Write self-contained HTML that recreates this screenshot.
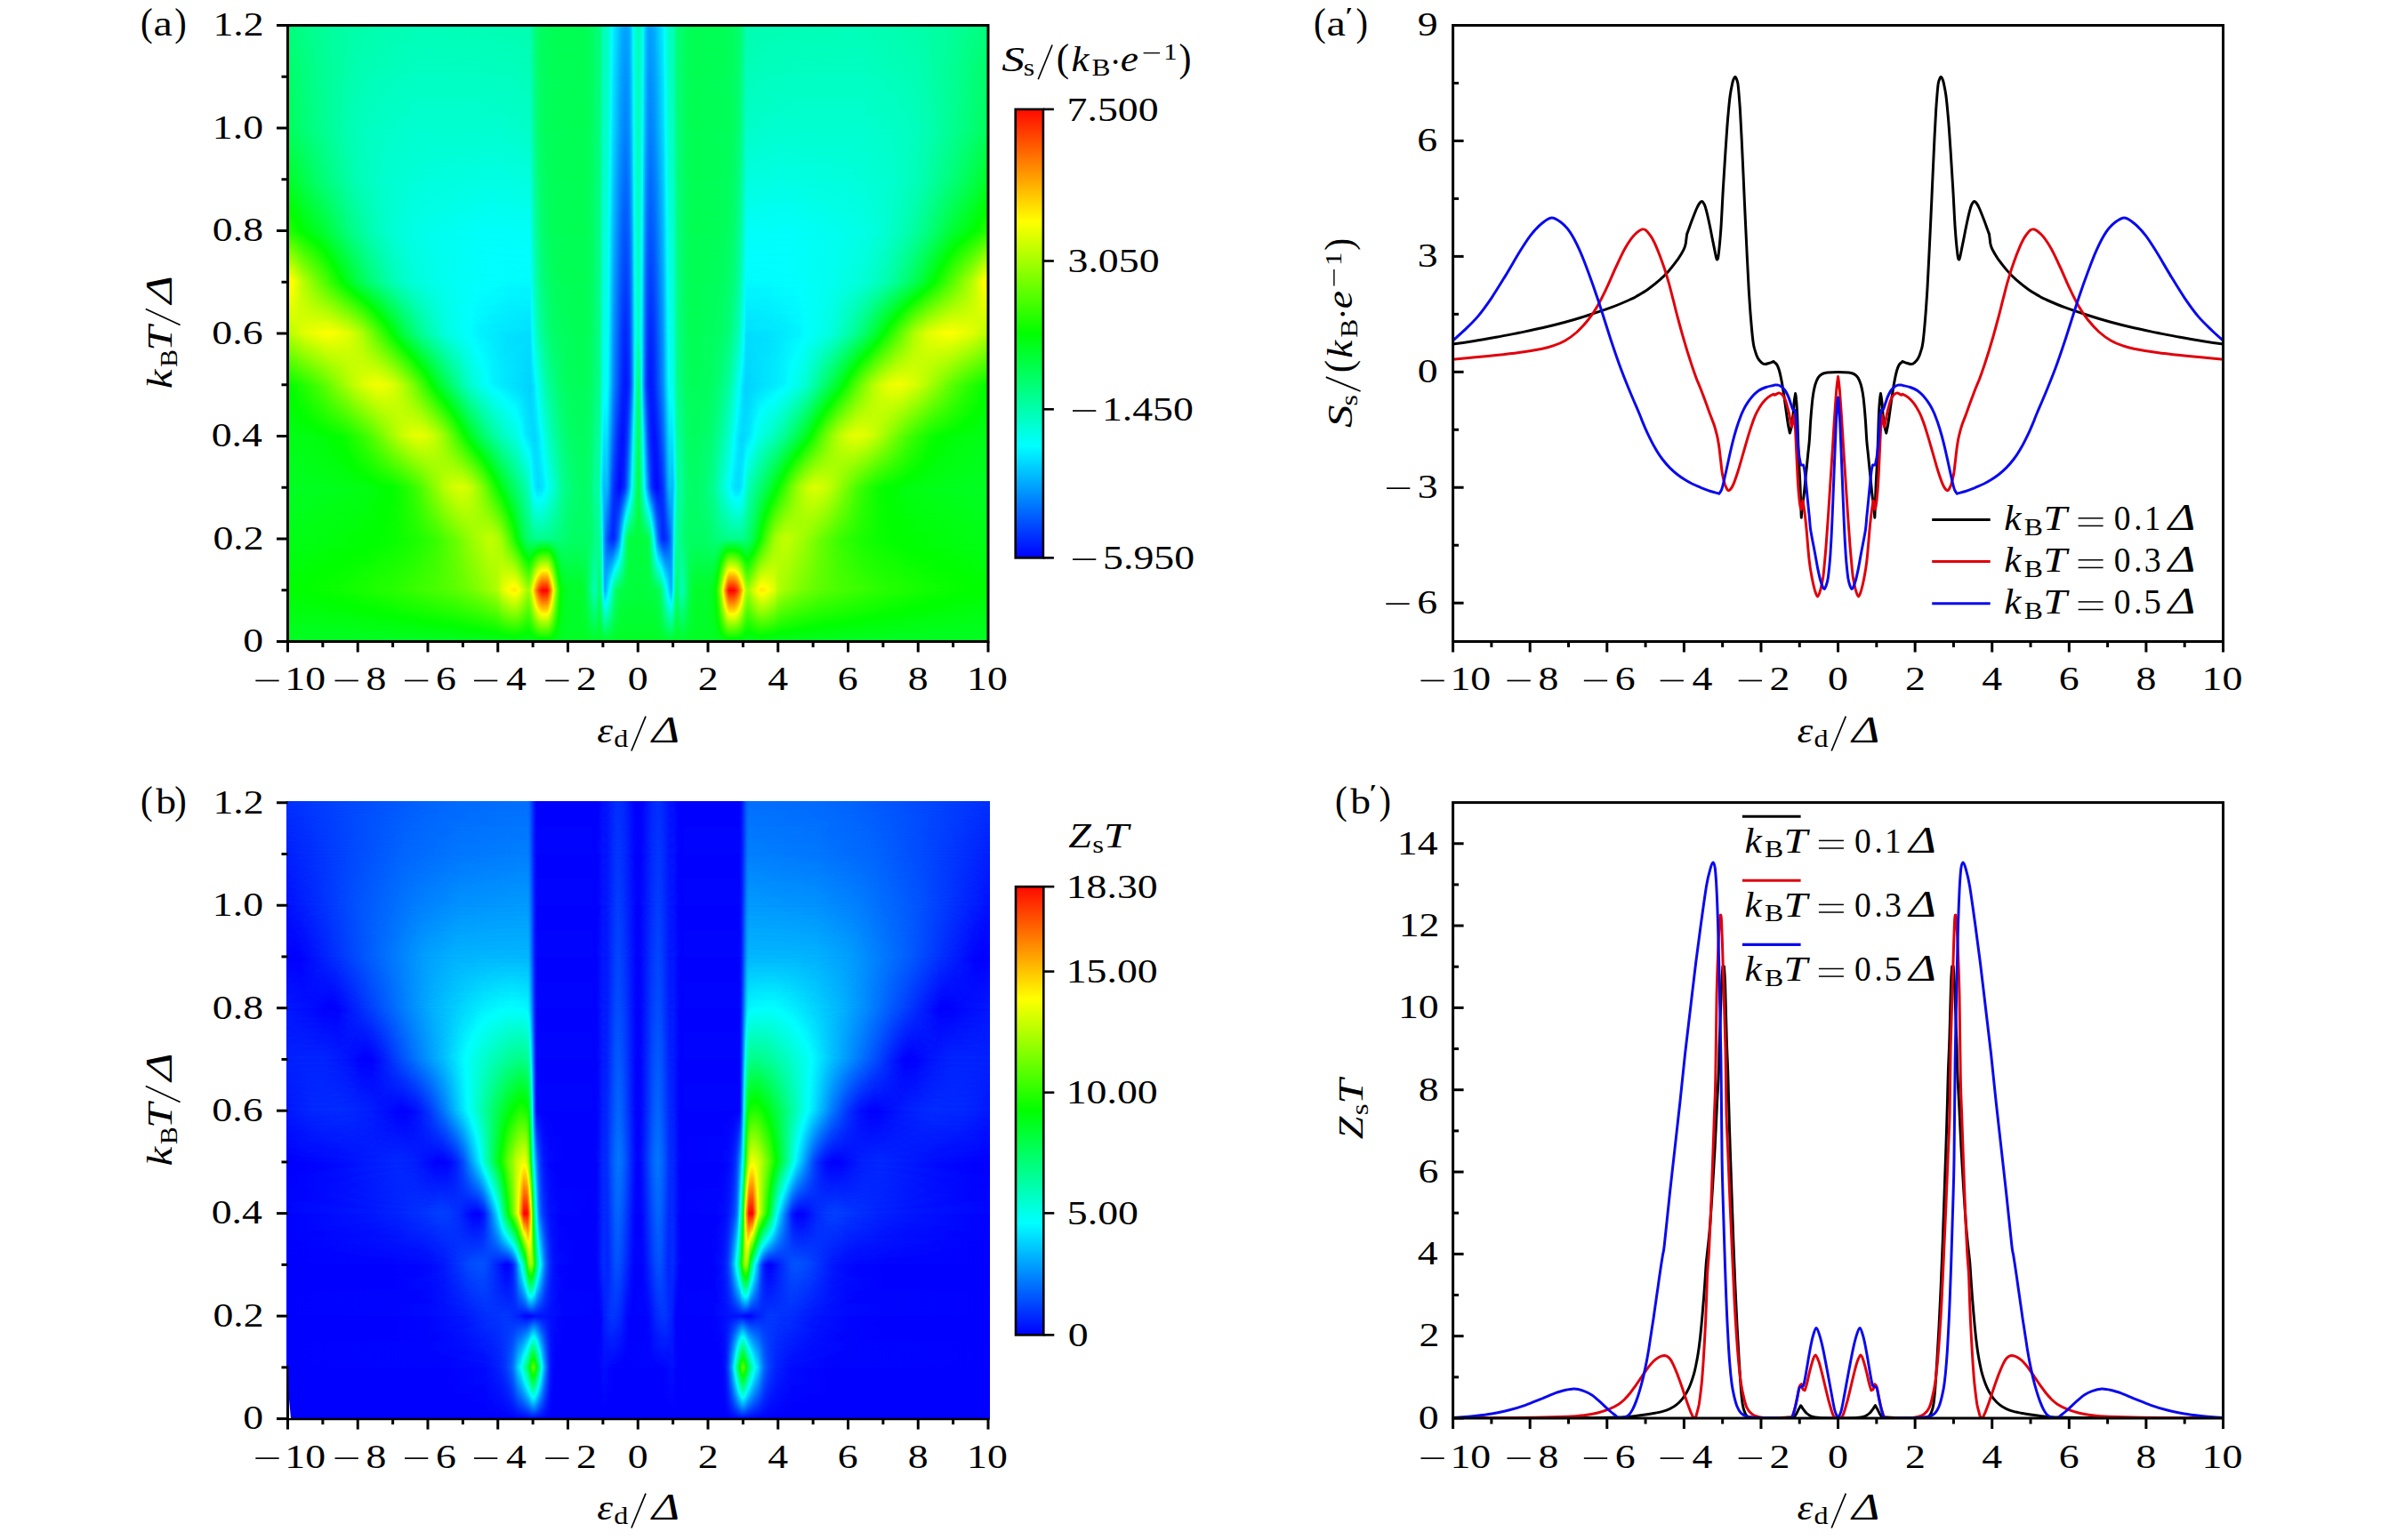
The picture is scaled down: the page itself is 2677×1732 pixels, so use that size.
<!DOCTYPE html>
<html><head><meta charset="utf-8"><title>figure</title>
<style>
html,body{margin:0;padding:0;background:#fff;}
body{width:2677px;height:1732px;position:relative;overflow:hidden;font-family:"Liberation Serif", serif;}
svg{position:absolute;left:0;top:0;}
svg text{font-family:"Liberation Serif", serif;fill:#000;}
.hm{position:absolute;overflow:hidden;}
.hm i{position:absolute;left:0;width:100%;display:block;}
.hm i.m{-webkit-mask-image:linear-gradient(transparent,#000);mask-image:linear-gradient(transparent,#000);}
</style></head><body>
<svg width="0" height="0" style="position:absolute"><defs>
<filter id="cm" color-interpolation-filters="sRGB" x="0" y="0" width="1" height="1"><feComponentTransfer><feFuncR type="table" tableValues="0 0 0 1 1"/><feFuncG type="table" tableValues="0 1 1 1 0"/><feFuncB type="table" tableValues="1 1 0 0 0"/></feComponentTransfer></filter>
</defs></svg>
<div class="hm" style="left:323.5px;top:28px;width:787.5px;height:694px;filter:url(#cm);--a0:linear-gradient(90deg,#767676 0%,#767676 100%);--a1:linear-gradient(90deg,#7f7f7f 0%,#848484 8.57%,#898989 14.57%,#919191 20.57%,#969696 23.85%,#9e9e9e 26.82%,#a3a3a3 28.02%,#a8a8a8 29.23%,#adadad 30%,#b0b0b0 30.23%,#b5b5b5 30.38%,#c2c2c2 31.68%,#c4c4c4 32.08%,#c5c5c5 32.33%,#c4c4c4 32.58%,#c1c1c1 32.85%,#bababa 33.27%,#ababab 34.08%,#a8a8a8 34.27%,#aaaaaa 34.48%,#b6b6b6 34.77%,#cbcbcb 35.08%,#dddddd 35.38%,#eeeeee 35.7%,#f8f8f8 35.98%,#ffffff 36.3%,#ffffff 36.95%,#fdfdfd 37.05%,#f3f3f3 37.25%,#e2e2e2 37.5%,#aaaaaa 38.17%,#9a9a9a 38.4%,#8b8b8b 38.67%,#7f7f7f 39%,#7b7b7b 39.27%,#787878 39.58%,#767676 40.02%,#757575 40.5%,#767676 41.6%,#747474 42.08%,#727272 42.35%,#6d6d6d 42.65%,#666666 42.95%,#575757 43.5%,#535353 43.75%,#565656 43.98%,#5b5b5b 44.15%,#626262 44.3%,#666666 44.45%,#666666 44.48%,#636363 44.58%,#5c5c5c 44.7%,#484848 44.88%,#3b3b3b 45.05%,#2a2a2a 45.23%,#2a2a2a 45.25%,#303030 45.42%,#343434 45.55%,#4e4e4e 46.25%,#595959 46.45%,#616161 46.62%,#676767 46.8%,#6a6a6a 47.02%,#6e6e6e 47.4%,#707070 47.88%,#717171 50%,#707070 52.12%,#6e6e6e 52.6%,#6a6a6a 52.98%,#676767 53.2%,#616161 53.38%,#595959 53.55%,#4e4e4e 53.75%,#343434 54.45%,#303030 54.58%,#2a2a2a 54.75%,#2a2a2a 54.77%,#3b3b3b 54.95%,#484848 55.12%,#5c5c5c 55.3%,#636363 55.42%,#666666 55.52%,#666666 55.55%,#626262 55.7%,#5b5b5b 55.85%,#565656 56.02%,#535353 56.25%,#575757 56.5%,#666666 57.05%,#6d6d6d 57.35%,#727272 57.65%,#747474 57.92%,#767676 58.4%,#757575 59.5%,#767676 59.98%,#787878 60.42%,#7b7b7b 60.73%,#808080 61.02%,#8b8b8b 61.33%,#999999 61.58%,#aaaaaa 61.83%,#e2e2e2 62.5%,#f2f2f2 62.73%,#fdfdfd 62.95%,#ffffff 63.08%,#ffffff 63.7%,#f8f8f8 64.03%,#ededed 64.33%,#dedede 64.6%,#cbcbcb 64.92%,#b6b6b6 65.22%,#aaaaaa 65.53%,#a8a8a8 65.72%,#ababab 65.92%,#bababa 66.72%,#c1c1c1 67.15%,#c4c4c4 67.42%,#c5c5c5 67.67%,#c4c4c4 67.92%,#c2c2c2 68.33%,#b5b5b5 69.62%,#b0b0b0 69.78%,#adadad 70%,#a8a8a8 70.78%,#a3a3a3 71.97%,#9e9e9e 73.17%,#969696 76.15%,#919191 79.42%,#898989 85.42%,#848484 91.42%,#7f7f7f 100%);--a2:linear-gradient(90deg,#7a7a7a 0%,#7c7c7c 5.1%,#7f7f7f 11.68%,#828282 15.32%,#868686 18.05%,#8b8b8b 20.07%,#8e8e8e 21.2%,#9b9b9b 24.12%,#a7a7a7 26.35%,#adadad 27.85%,#b0b0b0 28.62%,#b0b0b0 29.2%,#acacac 29.93%,#a9a9a9 30.35%,#a5a5a5 30.62%,#8f8f8f 31.93%,#6f6f6f 33.48%,#656565 34.23%,#5f5f5f 34.98%,#5d5d5d 35.5%,#5d5d5d 36.73%,#5f5f5f 37.9%,#676767 40.52%,#676767 42.77%,#666666 43.12%,#5c5c5c 44.2%,#585858 44.52%,#555555 44.6%,#515151 44.7%,#494949 44.83%,#434343 44.88%,#383838 44.95%,#353535 44.98%,#303030 45.02%,#232323 45.23%,#1b1b1b 45.4%,#141414 45.65%,#0e0e0e 45.95%,#0b0b0b 46.17%,#090909 46.4%,#0b0b0b 46.55%,#0e0e0e 46.73%,#141414 46.92%,#1c1c1c 47.17%,#232323 47.3%,#2c2c2c 47.45%,#444444 47.83%,#585858 48.1%,#606060 48.23%,#6c6c6c 48.52%,#6e6e6e 48.62%,#707070 48.73%,#717171 50.5%,#707070 51.25%,#6e6e6e 51.38%,#686868 51.58%,#636363 51.73%,#5f5f5f 51.8%,#575757 51.92%,#434343 52.2%,#2c2c2c 52.55%,#232323 52.7%,#1c1c1c 52.83%,#131313 53.1%,#0d0d0d 53.33%,#0a0a0a 53.5%,#0a0a0a 53.65%,#0b0b0b 53.85%,#0e0e0e 54.08%,#151515 54.38%,#1b1b1b 54.6%,#232323 54.77%,#303030 54.98%,#353535 55.02%,#383838 55.05%,#434343 55.12%,#494949 55.17%,#515151 55.3%,#555555 55.4%,#585858 55.48%,#5c5c5c 55.8%,#666666 56.88%,#676767 57.23%,#676767 59.48%,#5f5f5f 62.1%,#5d5d5d 63.27%,#5d5d5d 64.5%,#5f5f5f 65.03%,#656565 65.78%,#6f6f6f 66.53%,#8f8f8f 68.08%,#a0a0a0 69.03%,#a6a6a6 69.4%,#a9a9a9 69.67%,#adadad 70.12%,#b0b0b0 70.83%,#b0b0b0 71.4%,#adadad 72.17%,#a7a7a7 73.65%,#9b9b9b 75.88%,#8e8e8e 78.8%,#8b8b8b 79.92%,#868686 81.95%,#828282 84.67%,#7f7f7f 88.33%,#7c7c7c 94.9%,#7a7a7a 100%);--a3:linear-gradient(90deg,#777777 0%,#7a7a7a 8.6%,#7c7c7c 11.6%,#808080 14.6%,#848484 16.07%,#8b8b8b 17.6%,#929292 18.8%,#aeaeae 22.38%,#b4b4b4 23.57%,#b7b7b7 24.75%,#b4b4b4 25.62%,#b0b0b0 26.23%,#a4a4a4 27.45%,#9c9c9c 28.05%,#8b8b8b 29.25%,#7b7b7b 30.45%,#6d6d6d 31.62%,#565656 33.92%,#525252 34.27%,#4d4d4d 34.5%,#3e3e3e 35%,#3a3a3a 35.3%,#373737 35.6%,#373737 35.85%,#383838 36.2%,#3b3b3b 36.55%,#585858 38.95%,#5d5d5d 39.45%,#616161 40.17%,#646464 40.88%,#666666 41.58%,#666666 42.38%,#656565 42.85%,#636363 43.2%,#5e5e5e 43.55%,#565656 43.98%,#5c5c5c 44.3%,#555555 44.45%,#474747 44.62%,#3a3a3a 44.8%,#323232 44.98%,#2f2f2f 45.1%,#2d2d2d 45.2%,#313131 45.42%,#2a2a2a 45.73%,#131313 46.27%,#0b0b0b 46.62%,#060606 46.98%,#020202 47.35%,#060606 47.73%,#0c0c0c 48.08%,#1a1a1a 48.42%,#2e2e2e 48.8%,#585858 49.5%,#686868 49.8%,#6e6e6e 50%,#686868 50.2%,#585858 50.5%,#2e2e2e 51.2%,#1a1a1a 51.58%,#0c0c0c 51.92%,#060606 52.27%,#020202 52.65%,#060606 53.02%,#0b0b0b 53.38%,#131313 53.73%,#2a2a2a 54.27%,#313131 54.58%,#2d2d2d 54.8%,#2f2f2f 54.9%,#323232 55.02%,#3a3a3a 55.2%,#474747 55.38%,#555555 55.55%,#5c5c5c 55.7%,#565656 56.02%,#5e5e5e 56.45%,#636363 56.8%,#656565 57.15%,#666666 57.62%,#666666 58.42%,#646464 59.12%,#616161 59.83%,#5d5d5d 60.55%,#585858 61.05%,#3b3b3b 63.45%,#383838 63.8%,#373737 64.15%,#373737 64.4%,#3a3a3a 64.7%,#3e3e3e 65%,#4d4d4d 65.5%,#525252 65.72%,#565656 66.08%,#6d6d6d 68.38%,#7b7b7b 69.55%,#8b8b8b 70.75%,#9c9c9c 71.95%,#a4a4a4 72.55%,#b0b0b0 73.78%,#b4b4b4 74.38%,#b7b7b7 75.25%,#b4b4b4 76.42%,#aeaeae 77.62%,#929292 81.2%,#8b8b8b 82.4%,#848484 83.92%,#808080 85.4%,#7c7c7c 88.4%,#7a7a7a 91.4%,#777777 100%);--a4:linear-gradient(90deg,#7a7a7a 0%,#7c7c7c 3.2%,#7e7e7e 5.2%,#818181 7.25%,#848484 8.45%,#8f8f8f 11%,#989898 12.5%,#aeaeae 15.7%,#b3b3b3 16.57%,#b8b8b8 17.75%,#bababa 18.73%,#b8b8b8 19.68%,#b2b2b2 20.85%,#acacac 21.6%,#a4a4a4 22.43%,#9a9a9a 23.27%,#797979 25.93%,#6f6f6f 26.85%,#606060 28.48%,#5a5a5a 29.2%,#515151 30.52%,#464646 32.75%,#424242 33.17%,#3b3b3b 33.95%,#383838 34.5%,#363636 35.12%,#373737 35.42%,#3d3d3d 35.98%,#494949 36.77%,#545454 37.65%,#5c5c5c 38.52%,#616161 39.2%,#656565 39.95%,#686868 41.5%,#686868 42.35%,#676767 42.85%,#656565 43.15%,#626262 43.48%,#5a5a5a 44.12%,#5b5b5b 44.3%,#5b5b5b 44.42%,#555555 44.55%,#4c4c4c 44.67%,#434343 44.83%,#3c3c3c 45%,#383838 45.2%,#3a3a3a 45.4%,#383838 45.58%,#313131 45.8%,#1e1e1e 46.3%,#191919 46.48%,#0f0f0f 46.92%,#080808 47.33%,#040404 47.77%,#070707 48.08%,#0c0c0c 48.38%,#181818 48.7%,#2d2d2d 49.05%,#595959 49.65%,#646464 49.85%,#696969 50%,#646464 50.15%,#595959 50.35%,#2d2d2d 50.95%,#181818 51.3%,#0c0c0c 51.62%,#070707 51.92%,#040404 52.23%,#080808 52.67%,#0f0f0f 53.08%,#191919 53.52%,#1e1e1e 53.7%,#313131 54.2%,#383838 54.42%,#3a3a3a 54.6%,#383838 54.8%,#3c3c3c 55%,#434343 55.17%,#4c4c4c 55.33%,#555555 55.45%,#5b5b5b 55.58%,#5b5b5b 55.7%,#5a5a5a 55.88%,#626262 56.52%,#656565 56.85%,#676767 57.15%,#686868 57.65%,#686868 58.5%,#656565 60.05%,#616161 60.8%,#5c5c5c 61.48%,#545454 62.35%,#494949 63.23%,#3d3d3d 64.03%,#373737 64.58%,#363636 64.88%,#383838 65.5%,#3b3b3b 66.05%,#424242 66.83%,#464646 67.25%,#515151 69.47%,#5a5a5a 70.8%,#606060 71.5%,#6f6f6f 73.15%,#797979 74.08%,#9b9b9b 76.78%,#a3a3a3 77.53%,#acacac 78.38%,#b3b3b3 79.33%,#b6b6b6 79.9%,#bababa 81.1%,#b8b8b8 82.25%,#b3b3b3 83.45%,#aeaeae 84.3%,#989898 87.5%,#8f8f8f 89%,#848484 91.55%,#818181 92.75%,#7e7e7e 94.8%,#7c7c7c 96.8%,#7a7a7a 100%);--a5:linear-gradient(90deg,#808080 0%,#8c8c8c 3.17%,#959595 4.97%,#b4b4b4 10.1%,#bababa 11.57%,#bdbdbd 12.78%,#bbbbbb 13.97%,#b6b6b6 15.18%,#adadad 16.4%,#a2a2a2 17.57%,#959595 18.77%,#808080 20.57%,#737373 21.77%,#525252 25.27%,#4b4b4b 26.23%,#464646 27.2%,#3e3e3e 29.12%,#3a3a3a 31.05%,#353535 34.58%,#373737 34.88%,#3a3a3a 35.1%,#4e4e4e 36.3%,#555555 36.8%,#5a5a5a 37.27%,#616161 38.23%,#656565 38.95%,#686868 39.67%,#696969 40.65%,#6a6a6a 42.23%,#676767 43.2%,#646464 43.58%,#5f5f5f 44.1%,#5e5e5e 44.42%,#595959 44.58%,#4f4f4f 44.75%,#484848 44.92%,#434343 45.17%,#434343 45.5%,#404040 45.65%,#232323 46.45%,#101010 47.35%,#0a0a0a 47.7%,#070707 48.02%,#060606 48.23%,#070707 48.42%,#0b0b0b 48.7%,#161616 48.98%,#272727 49.23%,#545454 49.7%,#616161 49.9%,#646464 50%,#616161 50.1%,#545454 50.3%,#272727 50.77%,#161616 51.02%,#0b0b0b 51.3%,#070707 51.6%,#060606 51.8%,#070707 51.98%,#0a0a0a 52.3%,#101010 52.65%,#232323 53.55%,#404040 54.35%,#434343 54.5%,#434343 54.83%,#484848 55.08%,#4f4f4f 55.25%,#595959 55.42%,#5e5e5e 55.58%,#5f5f5f 55.9%,#646464 56.42%,#676767 56.8%,#6a6a6a 57.77%,#696969 59.35%,#686868 60.33%,#656565 61.05%,#616161 61.77%,#5a5a5a 62.73%,#555555 63.2%,#4e4e4e 63.7%,#3a3a3a 64.9%,#373737 65.12%,#353535 65.42%,#3a3a3a 68.95%,#3e3e3e 70.88%,#464646 72.8%,#4b4b4b 73.78%,#525252 74.72%,#737373 78.22%,#808080 79.42%,#959595 81.22%,#a2a2a2 82.42%,#adadad 83.6%,#b6b6b6 84.83%,#bbbbbb 86.03%,#bdbdbd 87.22%,#bababa 88.42%,#b4b4b4 89.9%,#959595 95.03%,#8c8c8c 96.83%,#808080 100%);--a6:linear-gradient(90deg,#adadad 0%,#b8b8b8 2.38%,#bdbdbd 4.22%,#bfbfbf 5.22%,#bfbfbf 5.92%,#bebebe 6.6%,#b8b8b8 8.6%,#b2b2b2 9.6%,#ababab 10.6%,#6e6e6e 16.6%,#646464 17.82%,#595959 19.3%,#4f4f4f 21.12%,#484848 22.52%,#434343 24.5%,#3d3d3d 27.15%,#393939 31.2%,#383838 34.6%,#404040 34.85%,#474747 35.12%,#535353 35.7%,#5b5b5b 36.38%,#626262 37.15%,#666666 38.08%,#686868 39.25%,#6b6b6b 41.83%,#6a6a6a 42.73%,#686868 43.2%,#656565 43.58%,#606060 44.1%,#5f5f5f 44.42%,#5a5a5a 44.58%,#505050 44.75%,#4a4a4a 44.92%,#454545 45.17%,#454545 45.5%,#434343 45.65%,#262626 46.45%,#141414 47.35%,#0e0e0e 47.7%,#0b0b0b 48.02%,#0a0a0a 48.23%,#0c0c0c 48.42%,#0f0f0f 48.7%,#1a1a1a 48.98%,#2a2a2a 49.23%,#353535 49.35%,#535353 50%,#353535 50.65%,#2a2a2a 50.77%,#1a1a1a 51.02%,#0f0f0f 51.3%,#0b0b0b 51.6%,#0a0a0a 51.8%,#0b0b0b 51.98%,#0e0e0e 52.3%,#141414 52.65%,#262626 53.55%,#434343 54.35%,#454545 54.5%,#454545 54.83%,#4a4a4a 55.08%,#505050 55.25%,#5a5a5a 55.42%,#5f5f5f 55.58%,#606060 55.9%,#656565 56.42%,#686868 56.8%,#6a6a6a 57.27%,#6b6b6b 58.17%,#686868 60.75%,#666666 61.92%,#626262 62.85%,#5b5b5b 63.62%,#535353 64.3%,#474747 64.88%,#404040 65.15%,#383838 65.4%,#393939 68.8%,#3d3d3d 72.85%,#434343 75.5%,#484848 77.47%,#4f4f4f 78.88%,#595959 80.7%,#646464 82.17%,#6e6e6e 83.4%,#ababab 89.4%,#b2b2b2 90.4%,#b8b8b8 91.4%,#bebebe 93.4%,#bfbfbf 94.08%,#bfbfbf 94.78%,#bdbdbd 95.78%,#b8b8b8 97.62%,#adadad 100%);--a7:linear-gradient(90deg,#c4c4c4 0%,#bebebe 0.82%,#b0b0b0 1.9%,#a9a9a9 2.67%,#767676 8.88%,#6c6c6c 10.22%,#616161 12.05%,#555555 14.47%,#4e4e4e 16.38%,#494949 18.43%,#454545 21.12%,#424242 24.6%,#404040 29.05%,#3f3f3f 34.6%,#474747 34.83%,#4d4d4d 35.05%,#525252 35.3%,#575757 35.58%,#5f5f5f 36.17%,#646464 36.92%,#686868 37.8%,#6a6a6a 38.98%,#6b6b6b 42.23%,#6a6a6a 42.73%,#686868 43.2%,#666666 43.58%,#606060 44.1%,#5f5f5f 44.42%,#5b5b5b 44.58%,#525252 44.75%,#4c4c4c 44.92%,#484848 45.17%,#474747 45.5%,#454545 45.65%,#2a2a2a 46.45%,#191919 47.35%,#141414 47.7%,#111111 48.02%,#101010 48.23%,#111111 48.42%,#151515 48.7%,#1e1e1e 48.98%,#2d2d2d 49.23%,#383838 49.35%,#535353 50%,#383838 50.65%,#2d2d2d 50.77%,#1e1e1e 51.02%,#151515 51.3%,#111111 51.6%,#101010 51.8%,#111111 51.98%,#141414 52.3%,#191919 52.65%,#2a2a2a 53.55%,#454545 54.35%,#474747 54.5%,#484848 54.83%,#4c4c4c 55.08%,#525252 55.25%,#5b5b5b 55.42%,#5f5f5f 55.58%,#606060 55.9%,#666666 56.42%,#686868 56.8%,#6b6b6b 57.75%,#696969 61.4%,#676767 62.4%,#646464 63.17%,#5f5f5f 63.88%,#575757 64.45%,#4d4d4d 64.95%,#474747 65.17%,#3f3f3f 65.4%,#404040 71.97%,#444444 77.78%,#494949 81.5%,#4d4d4d 83.22%,#535353 85.03%,#575757 86.12%,#626262 88.1%,#6a6a6a 89.45%,#727272 90.58%,#aaaaaa 97.4%,#b1b1b1 98.12%,#bebebe 99.17%,#c4c4c4 100%);--a8:linear-gradient(90deg,#898989 0%,#7f7f7f 2.08%,#737373 5.05%,#676767 7.28%,#5f5f5f 8.9%,#545454 11.65%,#4f4f4f 13.38%,#4b4b4b 14.88%,#474747 17.4%,#454545 19.88%,#414141 28.6%,#424242 34.6%,#4a4a4a 34.8%,#505050 35%,#565656 35.23%,#5a5a5a 35.45%,#616161 36%,#666666 36.65%,#696969 37.45%,#6a6a6a 38.58%,#6b6b6b 42.23%,#6a6a6a 42.73%,#686868 43.2%,#666666 43.58%,#616161 44.1%,#606060 44.42%,#5c5c5c 44.58%,#535353 44.75%,#4e4e4e 44.92%,#4a4a4a 45.17%,#494949 45.5%,#474747 45.65%,#2e2e2e 46.45%,#1e1e1e 47.35%,#191919 47.7%,#161616 48.02%,#161616 48.23%,#171717 48.42%,#1a1a1a 48.7%,#232323 48.98%,#313131 49.23%,#3b3b3b 49.35%,#535353 50%,#3b3b3b 50.65%,#313131 50.77%,#232323 51.02%,#1a1a1a 51.3%,#171717 51.6%,#161616 51.8%,#191919 52.3%,#1e1e1e 52.65%,#2e2e2e 53.55%,#474747 54.35%,#494949 54.5%,#4a4a4a 54.83%,#4e4e4e 55.08%,#535353 55.25%,#5c5c5c 55.42%,#606060 55.58%,#616161 55.9%,#666666 56.42%,#686868 56.8%,#6a6a6a 57.27%,#6b6b6b 57.77%,#6a6a6a 61.42%,#696969 62.55%,#666666 63.35%,#616161 64%,#5a5a5a 64.55%,#565656 64.78%,#505050 65%,#4a4a4a 65.2%,#424242 65.4%,#414141 71.4%,#454545 80.12%,#474747 82.6%,#4b4b4b 85.12%,#4f4f4f 86.62%,#545454 88.35%,#5f5f5f 91.1%,#676767 92.72%,#737373 94.95%,#7f7f7f 97.92%,#898989 100%);--a9:linear-gradient(90deg,#767676 0%,#646464 4.47%,#595959 7.83%,#535353 9.62%,#4f4f4f 12%,#4c4c4c 14.07%,#494949 19.48%,#474747 29.25%,#484848 34.6%,#4f4f4f 34.77%,#545454 34.98%,#5d5d5d 35.4%,#636363 35.9%,#676767 36.52%,#696969 37.3%,#6a6a6a 38.38%,#6b6b6b 42.23%,#6a6a6a 42.7%,#686868 43.2%,#666666 43.58%,#626262 44.1%,#616161 44.42%,#5d5d5d 44.58%,#555555 44.75%,#505050 44.92%,#4c4c4c 45.17%,#4c4c4c 45.5%,#4a4a4a 45.65%,#323232 46.45%,#232323 47.35%,#1f1f1f 47.7%,#1c1c1c 48.02%,#1b1b1b 48.23%,#1c1c1c 48.42%,#202020 48.7%,#282828 48.98%,#353535 49.23%,#3f3f3f 49.35%,#535353 50%,#3f3f3f 50.65%,#353535 50.77%,#282828 51.02%,#202020 51.3%,#1c1c1c 51.6%,#1b1b1b 51.8%,#1f1f1f 52.3%,#232323 52.65%,#323232 53.55%,#4a4a4a 54.35%,#4c4c4c 54.5%,#4c4c4c 54.83%,#505050 55.08%,#555555 55.25%,#5d5d5d 55.42%,#616161 55.58%,#626262 55.9%,#666666 56.42%,#686868 56.8%,#6a6a6a 57.3%,#6b6b6b 57.77%,#6a6a6a 61.62%,#696969 62.7%,#676767 63.48%,#636363 64.1%,#5d5d5d 64.6%,#545454 65.03%,#4f4f4f 65.22%,#484848 65.4%,#474747 70.75%,#494949 80.53%,#4c4c4c 85.92%,#4f4f4f 88%,#535353 90.38%,#595959 92.17%,#646464 95.53%,#767676 100%);--a10:linear-gradient(90deg,#696969 0%,#626262 2.38%,#545454 8.3%,#505050 10.82%,#4e4e4e 13.97%,#4c4c4c 18.48%,#4c4c4c 30.23%,#4e4e4e 34.6%,#545454 34.8%,#595959 35%,#616161 35.45%,#666666 36%,#696969 36.73%,#6a6a6a 38.2%,#6b6b6b 42.25%,#696969 43.2%,#626262 44.1%,#616161 44.42%,#5e5e5e 44.58%,#575757 44.75%,#525252 44.92%,#4e4e4e 45.17%,#4e4e4e 45.5%,#4c4c4c 45.65%,#363636 46.45%,#292929 47.35%,#242424 47.7%,#212121 48.23%,#222222 48.42%,#252525 48.7%,#2d2d2d 48.98%,#393939 49.23%,#424242 49.35%,#535353 50%,#424242 50.65%,#393939 50.77%,#2d2d2d 51.02%,#252525 51.3%,#222222 51.6%,#212121 51.8%,#242424 52.3%,#292929 52.65%,#363636 53.55%,#4c4c4c 54.35%,#4e4e4e 54.5%,#4e4e4e 54.83%,#525252 55.08%,#575757 55.25%,#5e5e5e 55.42%,#616161 55.58%,#626262 55.9%,#696969 56.8%,#6b6b6b 57.75%,#6a6a6a 61.8%,#696969 63.27%,#666666 64%,#616161 64.55%,#595959 65%,#545454 65.2%,#4e4e4e 65.4%,#4c4c4c 69.78%,#4c4c4c 81.53%,#4e4e4e 86.03%,#505050 89.17%,#545454 91.7%,#626262 97.62%,#696969 100%);--a11:linear-gradient(90deg,#666666 0%,#5c5c5c 4.53%,#565656 8.03%,#535353 10.05%,#515151 13.47%,#4f4f4f 18.15%,#4f4f4f 26.9%,#515151 34.6%,#5a5a5a 34.92%,#606060 35.3%,#656565 35.75%,#686868 36.33%,#6a6a6a 37.83%,#6b6b6b 42.25%,#696969 43.2%,#636363 44.1%,#626262 44.42%,#5f5f5f 44.58%,#585858 44.75%,#535353 44.92%,#505050 45.17%,#4f4f4f 45.5%,#4e4e4e 45.65%,#393939 46.45%,#2c2c2c 47.35%,#282828 47.7%,#252525 48.23%,#262626 48.42%,#282828 48.7%,#313131 49%,#3b3b3b 49.23%,#444444 49.35%,#535353 50%,#444444 50.65%,#3b3b3b 50.77%,#313131 51%,#282828 51.3%,#252525 51.6%,#252525 51.8%,#282828 52.3%,#2c2c2c 52.65%,#393939 53.55%,#4e4e4e 54.35%,#4f4f4f 54.5%,#505050 54.83%,#535353 55.08%,#585858 55.25%,#5f5f5f 55.42%,#626262 55.58%,#636363 55.9%,#696969 56.8%,#6b6b6b 57.75%,#6a6a6a 62.17%,#686868 63.67%,#656565 64.25%,#606060 64.7%,#5a5a5a 65.08%,#515151 65.4%,#4f4f4f 73.1%,#4f4f4f 81.85%,#515151 86.53%,#535353 89.95%,#565656 91.97%,#5c5c5c 95.47%,#666666 100%);--a12:linear-gradient(90deg,#616161 0%,#585858 6.33%,#555555 10.78%,#525252 19.35%,#535353 30.88%,#545454 34.6%,#595959 34.77%,#5d5d5d 34.98%,#636363 35.4%,#676767 35.92%,#696969 36.6%,#6b6b6b 38.05%,#6b6b6b 42.25%,#696969 43.2%,#636363 44.1%,#626262 44.42%,#606060 44.58%,#595959 44.75%,#545454 44.92%,#515151 45.17%,#515151 45.5%,#4f4f4f 45.65%,#3c3c3c 46.45%,#2c2c2c 47.7%,#292929 48.23%,#2a2a2a 48.42%,#2c2c2c 48.7%,#343434 49%,#3e3e3e 49.23%,#464646 49.35%,#535353 50%,#464646 50.65%,#3e3e3e 50.77%,#343434 51%,#2c2c2c 51.3%,#292929 51.6%,#292929 51.8%,#2c2c2c 52.3%,#3c3c3c 53.55%,#4f4f4f 54.35%,#515151 54.5%,#515151 54.83%,#545454 55.08%,#595959 55.25%,#606060 55.42%,#626262 55.58%,#636363 55.9%,#696969 56.8%,#6b6b6b 57.75%,#6b6b6b 61.95%,#696969 63.4%,#676767 64.08%,#636363 64.6%,#5d5d5d 65.03%,#595959 65.22%,#545454 65.4%,#535353 69.12%,#525252 80.65%,#555555 89.22%,#585858 93.67%,#616161 100%);">
<i style="top:0px;height:59px;background:var(--a12)"></i>
<i class="m" style="top:0px;height:58px;background:var(--a11)"></i>
<i style="top:58px;height:59px;background:var(--a11)"></i>
<i class="m" style="top:58px;height:58px;background:var(--a10)"></i>
<i style="top:116px;height:59px;background:var(--a10)"></i>
<i class="m" style="top:116px;height:58px;background:var(--a9)"></i>
<i style="top:174px;height:59px;background:var(--a9)"></i>
<i class="m" style="top:174px;height:58px;background:var(--a8)"></i>
<i style="top:232px;height:58px;background:var(--a8)"></i>
<i class="m" style="top:232px;height:57px;background:var(--a7)"></i>
<i style="top:289px;height:59px;background:var(--a7)"></i>
<i class="m" style="top:289px;height:58px;background:var(--a6)"></i>
<i style="top:347px;height:59px;background:var(--a6)"></i>
<i class="m" style="top:347px;height:58px;background:var(--a5)"></i>
<i style="top:405px;height:58px;background:var(--a5)"></i>
<i class="m" style="top:405px;height:57px;background:var(--a4)"></i>
<i style="top:462px;height:59px;background:var(--a4)"></i>
<i class="m" style="top:462px;height:58px;background:var(--a3)"></i>
<i style="top:520px;height:59px;background:var(--a3)"></i>
<i class="m" style="top:520px;height:58px;background:var(--a2)"></i>
<i style="top:578px;height:59px;background:var(--a2)"></i>
<i class="m" style="top:578px;height:58px;background:var(--a1)"></i>
<i style="top:636px;height:58px;background:var(--a1)"></i>
<i class="m" style="top:636px;height:58px;background:var(--a0)"></i>
</div>
<div class="hm" style="left:322.3px;top:901px;width:790.3px;height:695px;filter:url(#cm);--b0:linear-gradient(90deg,#000000 0%,#000000 100%);--b1:linear-gradient(90deg,#000000 0%,#010101 23.02%,#030303 28.12%,#050505 29.02%,#090909 30.38%,#0f0f0f 31.27%,#171717 31.88%,#1b1b1b 32.1%,#212121 32.33%,#2e2e2e 32.73%,#353535 32.9%,#404040 33.35%,#4e4e4e 33.7%,#5b5b5b 34%,#757575 34.5%,#7e7e7e 34.6%,#8e8e8e 34.8%,#999999 35.02%,#989898 35.2%,#939393 35.33%,#808080 35.52%,#757575 35.7%,#6b6b6b 35.8%,#5c5c5c 35.98%,#3c3c3c 36.4%,#2c2c2c 36.65%,#1f1f1f 36.9%,#141414 37.12%,#0c0c0c 37.35%,#050505 37.6%,#020202 37.9%,#000000 38.3%,#000000 44.1%,#010101 44.55%,#040404 45.15%,#020202 45.85%,#010101 46.5%,#000000 47.6%,#010101 53.48%,#020202 54.15%,#040404 54.85%,#010101 55.45%,#000000 55.9%,#000000 60.98%,#000000 61.7%,#020202 62.1%,#050505 62.4%,#0b0b0b 62.62%,#141414 62.88%,#202020 63.12%,#2c2c2c 63.35%,#3c3c3c 63.6%,#5c5c5c 64.03%,#6b6b6b 64.2%,#757575 64.3%,#808080 64.47%,#939393 64.67%,#989898 64.8%,#999999 64.97%,#8e8e8e 65.2%,#7e7e7e 65.4%,#757575 65.5%,#5b5b5b 66%,#4e4e4e 66.3%,#404040 66.65%,#353535 67.1%,#2e2e2e 67.28%,#212121 67.67%,#1b1b1b 67.9%,#171717 68.12%,#0f0f0f 68.72%,#090909 69.62%,#050505 70.97%,#030303 71.88%,#010101 76.97%,#000000 100%);--b2:linear-gradient(90deg,#000000 0%,#010101 15.18%,#020202 20.15%,#060606 25.07%,#0c0c0c 28.32%,#0e0e0e 31%,#0d0d0d 31.8%,#080808 33.02%,#010101 34.08%,#000000 34.5%,#040404 35.45%,#050505 37%,#010101 39.38%,#000000 44.52%,#030303 44.85%,#080808 45.17%,#090909 45.4%,#0d0d0d 45.95%,#0e0e0e 46.4%,#0d0d0d 46.85%,#0a0a0a 47.52%,#020202 48.45%,#000000 49.23%,#010101 51.12%,#030303 51.65%,#0a0a0a 52.48%,#0d0d0d 53.15%,#0e0e0e 53.6%,#0d0d0d 54.05%,#090909 54.6%,#080808 54.83%,#030303 55.15%,#000000 55.48%,#010101 60.62%,#050505 63%,#040404 64.55%,#010101 65.28%,#000000 65.55%,#010101 65.95%,#080808 66.97%,#0d0d0d 68.2%,#0e0e0e 69%,#0c0c0c 71.67%,#060606 74.92%,#020202 79.85%,#010101 84.83%,#000000 100%);--b3:linear-gradient(90deg,#000000 0%,#010101 14.85%,#020202 18.8%,#030303 20.32%,#060606 22.27%,#131313 26.02%,#151515 27.45%,#141414 28.2%,#121212 28.57%,#0c0c0c 29.48%,#030303 30.75%,#000000 31.27%,#000000 31.5%,#050505 31.95%,#090909 32.17%,#0e0e0e 32.35%,#141414 32.52%,#212121 32.8%,#303030 33.02%,#393939 33.25%,#474747 33.5%,#575757 33.73%,#676767 33.95%,#747474 34.1%,#8f8f8f 34.25%,#a1a1a1 34.48%,#a9a9a9 34.65%,#aaaaaa 34.75%,#a8a8a8 34.85%,#a0a0a0 34.98%,#7e7e7e 35.38%,#7a7a7a 35.4%,#686868 35.5%,#666666 35.52%,#484848 35.98%,#292929 36.52%,#1e1e1e 36.77%,#131313 37.1%,#0c0c0c 37.4%,#070707 37.77%,#040404 38.12%,#020202 38.75%,#000000 41.08%,#000000 43.9%,#030303 44.33%,#0b0b0b 45%,#0b0b0b 45.25%,#0a0a0a 45.42%,#090909 45.67%,#141414 46.73%,#151515 47.05%,#131313 47.5%,#040404 49.02%,#010101 49.48%,#010101 50.55%,#040404 50.98%,#131313 52.5%,#151515 52.95%,#141414 53.27%,#090909 54.33%,#0a0a0a 54.58%,#0b0b0b 54.75%,#0b0b0b 55%,#030303 55.67%,#000000 56.1%,#000000 60.35%,#020202 61.25%,#040404 61.85%,#070707 62.23%,#0c0c0c 62.62%,#131313 62.92%,#1d1d1d 63.2%,#292929 63.48%,#484848 64.03%,#666666 64.47%,#686868 64.5%,#7a7a7a 64.6%,#7e7e7e 64.62%,#a0a0a0 65.03%,#a8a8a8 65.15%,#aaaaaa 65.25%,#a9a9a9 65.35%,#a1a1a1 65.53%,#8f8f8f 65.75%,#747474 65.9%,#676767 66.05%,#575757 66.28%,#474747 66.5%,#393939 66.75%,#303030 66.97%,#212121 67.2%,#141414 67.47%,#0e0e0e 67.65%,#090909 67.83%,#050505 68.05%,#000000 68.5%,#000000 68.72%,#030303 69.25%,#0c0c0c 70.53%,#121212 71.42%,#141414 71.8%,#151515 72.55%,#131313 73.97%,#060606 77.72%,#030303 79.67%,#020202 81.2%,#010101 85.15%,#000000 100%);--b4:linear-gradient(90deg,#010101 0%,#030303 5.35%,#060606 11.93%,#090909 15.72%,#101010 21.98%,#0f0f0f 23.05%,#0b0b0b 24.55%,#030303 26%,#000000 26.8%,#000000 27.25%,#030303 27.73%,#050505 28%,#090909 28.23%,#1c1c1c 29.02%,#2f2f2f 29.7%,#393939 30%,#434343 30.27%,#7b7b7b 31.45%,#9b9b9b 32.23%,#ababab 32.58%,#b7b7b7 32.8%,#bfbfbf 32.95%,#c8c8c8 33.08%,#eaeaea 33.5%,#ffffff 33.73%,#ffffff 33.75%,#ffffff 34.25%,#f8f8f8 34.33%,#d9d9d9 34.62%,#cfcfcf 34.7%,#c3c3c3 34.77%,#bababa 34.83%,#b5b5b5 34.85%,#a7a7a7 34.9%,#919191 34.98%,#858585 35.02%,#7b7b7b 35.08%,#727272 35.12%,#646464 35.23%,#545454 35.35%,#474747 35.48%,#2d2d2d 35.75%,#212121 35.9%,#1d1d1d 35.98%,#181818 36.12%,#0f0f0f 36.48%,#080808 37.02%,#040404 37.5%,#010101 38.92%,#000000 43.9%,#030303 44.33%,#0a0a0a 44.98%,#0b0b0b 45.25%,#0a0a0a 45.52%,#0b0b0b 45.67%,#181818 46.73%,#1a1a1a 47.15%,#181818 47.5%,#141414 47.92%,#020202 49.45%,#000000 49.98%,#020202 50.55%,#141414 52.08%,#181818 52.5%,#1a1a1a 52.85%,#181818 53.27%,#0b0b0b 54.33%,#0a0a0a 54.48%,#0b0b0b 54.75%,#0a0a0a 55.02%,#030303 55.67%,#000000 56.1%,#010101 61.2%,#030303 62.23%,#060606 62.8%,#0c0c0c 63.3%,#121212 63.65%,#1b1b1b 63.98%,#1e1e1e 64.05%,#232323 64.12%,#2d2d2d 64.25%,#494949 64.55%,#575757 64.67%,#676767 64.8%,#777777 64.9%,#858585 64.97%,#919191 65.03%,#a7a7a7 65.1%,#b5b5b5 65.15%,#bababa 65.17%,#c3c3c3 65.22%,#cfcfcf 65.3%,#d9d9d9 65.38%,#f8f8f8 65.67%,#ffffff 65.75%,#ffffff 66.25%,#ffffff 66.28%,#eaeaea 66.5%,#c8c8c8 66.92%,#bfbfbf 67.05%,#b7b7b7 67.2%,#ababab 67.42%,#9b9b9b 67.78%,#7b7b7b 68.55%,#434343 69.72%,#393939 70%,#2f2f2f 70.3%,#1c1c1c 70.97%,#090909 71.78%,#050505 72%,#030303 72.28%,#000000 72.75%,#000000 73.2%,#030303 74%,#0b0b0b 75.45%,#0f0f0f 76.95%,#101010 78.03%,#090909 84.28%,#060606 88.08%,#030303 94.65%,#010101 100%);--b5:linear-gradient(90deg,#000000 0%,#030303 7.22%,#080808 13.12%,#0a0a0a 15.72%,#080808 18.12%,#000000 21.52%,#000000 22.43%,#030303 23.32%,#090909 24.23%,#0e0e0e 24.68%,#131313 25.12%,#222222 26.02%,#323232 26.93%,#3b3b3b 27.45%,#7b7b7b 30.15%,#9a9a9a 31.52%,#b4b4b4 32.9%,#bababa 33.42%,#bcbcbc 33.77%,#b9b9b9 34.05%,#b0b0b0 34.27%,#a0a0a0 34.48%,#8d8d8d 34.65%,#797979 34.8%,#5a5a5a 34.92%,#565656 34.95%,#474747 35.1%,#373737 35.27%,#292929 35.48%,#1d1d1d 35.67%,#131313 35.92%,#0c0c0c 36.2%,#070707 36.5%,#040404 36.88%,#020202 37.4%,#010101 38.15%,#000000 39.62%,#000000 43.9%,#030303 44.33%,#0a0a0a 44.95%,#0b0b0b 45.52%,#161616 46.3%,#1b1b1b 46.73%,#1e1e1e 47.17%,#1c1c1c 47.6%,#181818 48.02%,#030303 49.55%,#000000 49.98%,#030303 50.45%,#181818 51.98%,#1c1c1c 52.4%,#1e1e1e 52.83%,#1b1b1b 53.27%,#161616 53.7%,#0b0b0b 54.48%,#0a0a0a 55.05%,#030303 55.67%,#000000 56.1%,#010101 61.85%,#020202 62.6%,#040404 63.12%,#070707 63.5%,#0c0c0c 63.8%,#131313 64.08%,#1d1d1d 64.33%,#292929 64.53%,#3a3a3a 64.75%,#494949 64.92%,#565656 65.05%,#5a5a5a 65.08%,#797979 65.2%,#8d8d8d 65.35%,#a0a0a0 65.53%,#b0b0b0 65.72%,#b9b9b9 65.95%,#bcbcbc 66.22%,#bababa 66.58%,#b4b4b4 67.1%,#9a9a9a 68.47%,#7b7b7b 69.85%,#3b3b3b 72.55%,#323232 73.08%,#222222 73.97%,#131313 74.88%,#0e0e0e 75.33%,#090909 75.78%,#030303 76.67%,#000000 77.58%,#000000 78.47%,#080808 81.88%,#0a0a0a 84.28%,#080808 86.88%,#030303 92.78%,#000000 100%);--b6:linear-gradient(90deg,#060606 0%,#0a0a0a 3.55%,#0b0b0b 7.72%,#0a0a0a 9.55%,#070707 12.15%,#000000 16.3%,#010101 17.15%,#040404 18.43%,#080808 19.25%,#0f0f0f 20.45%,#1f1f1f 22.45%,#424242 26%,#797979 31.3%,#858585 32.7%,#888888 33.25%,#878787 33.7%,#858585 34.1%,#838383 34.3%,#7f7f7f 34.4%,#777777 34.52%,#6f6f6f 34.6%,#676767 34.67%,#575757 34.8%,#272727 35.15%,#1b1b1b 35.25%,#131313 35.33%,#0a0a0a 35.42%,#050505 35.5%,#020202 35.58%,#010101 35.65%,#010101 43.48%,#000000 43.5%,#000000 43.9%,#020202 44.33%,#080808 44.95%,#0a0a0a 45.52%,#171717 46.73%,#1a1a1a 47.17%,#181818 47.6%,#141414 48.02%,#020202 49.55%,#000000 49.98%,#020202 50.45%,#141414 51.98%,#181818 52.4%,#1a1a1a 52.83%,#171717 53.27%,#0a0a0a 54.48%,#080808 55.05%,#020202 55.67%,#000000 56.1%,#000000 56.5%,#010101 56.52%,#010101 64.35%,#020202 64.42%,#050505 64.5%,#0a0a0a 64.58%,#131313 64.67%,#1b1b1b 64.75%,#272727 64.85%,#575757 65.2%,#676767 65.33%,#6f6f6f 65.4%,#777777 65.47%,#7f7f7f 65.6%,#838383 65.7%,#858585 65.9%,#878787 66.3%,#888888 66.75%,#858585 67.3%,#797979 68.7%,#424242 74%,#1f1f1f 77.55%,#0f0f0f 79.55%,#080808 80.75%,#040404 81.58%,#010101 82.85%,#000000 83.7%,#070707 87.85%,#0a0a0a 90.45%,#0b0b0b 92.28%,#0a0a0a 96.45%,#060606 100%);--b7:linear-gradient(90deg,#080808 0%,#090909 2.38%,#090909 5.47%,#050505 8.65%,#000000 10.9%,#000000 11.6%,#010101 12.22%,#070707 13.72%,#131313 16.1%,#303030 22.4%,#404040 25.32%,#4d4d4d 28.18%,#5a5a5a 31.45%,#5d5d5d 32.8%,#5e5e5e 33.5%,#5b5b5b 34.27%,#5a5a5a 34.35%,#585858 34.42%,#515151 34.55%,#484848 34.67%,#3d3d3d 34.8%,#1b1b1b 35.15%,#0d0d0d 35.33%,#070707 35.42%,#040404 35.5%,#020202 35.58%,#010101 35.65%,#010101 43.48%,#000000 43.5%,#000000 43.9%,#020202 44.33%,#070707 44.95%,#080808 45.52%,#151515 46.73%,#171717 47.17%,#151515 47.6%,#121212 48.02%,#020202 49.55%,#000000 49.98%,#020202 50.45%,#121212 51.98%,#151515 52.4%,#171717 52.83%,#151515 53.27%,#080808 54.48%,#070707 55.05%,#020202 55.67%,#000000 56.1%,#000000 56.5%,#010101 56.52%,#010101 64.35%,#020202 64.42%,#040404 64.5%,#070707 64.58%,#0d0d0d 64.67%,#1b1b1b 64.85%,#3d3d3d 65.2%,#484848 65.33%,#515151 65.45%,#585858 65.58%,#5a5a5a 65.65%,#5b5b5b 65.72%,#5e5e5e 66.5%,#5d5d5d 67.2%,#5a5a5a 68.55%,#4d4d4d 71.83%,#404040 74.67%,#303030 77.6%,#131313 83.9%,#070707 86.28%,#010101 87.78%,#000000 88.4%,#000000 89.1%,#050505 91.35%,#090909 94.53%,#090909 97.62%,#080808 100%);--b8:linear-gradient(90deg,#060606 0%,#030303 3.58%,#000000 5.92%,#000000 6.97%,#080808 9.47%,#252525 18.32%,#2d2d2d 20.95%,#3c3c3c 27.98%,#3f3f3f 30.48%,#404040 32%,#3f3f3f 33.55%,#3e3e3e 34.27%,#3d3d3d 34.35%,#393939 34.5%,#323232 34.65%,#292929 34.8%,#131313 35.15%,#090909 35.33%,#030303 35.5%,#010101 35.65%,#010101 43.48%,#000000 43.5%,#000000 43.9%,#020202 44.33%,#070707 44.95%,#070707 45.52%,#121212 46.73%,#141414 47.17%,#121212 47.6%,#101010 48.02%,#020202 49.55%,#000000 49.98%,#020202 50.45%,#101010 51.98%,#121212 52.4%,#141414 52.83%,#121212 53.27%,#070707 54.48%,#070707 55.05%,#020202 55.67%,#000000 56.1%,#000000 56.5%,#010101 56.52%,#010101 64.35%,#030303 64.5%,#090909 64.67%,#131313 64.85%,#292929 65.2%,#323232 65.35%,#393939 65.5%,#3d3d3d 65.65%,#3e3e3e 65.72%,#3f3f3f 66.38%,#404040 67.9%,#404040 69.4%,#3c3c3c 71.95%,#2d2d2d 78.97%,#252525 81.65%,#080808 90.53%,#000000 93.03%,#000000 94.08%,#030303 96.42%,#060606 100%);--b9:linear-gradient(90deg,#010101 0%,#000000 1.12%,#010101 2.12%,#171717 11.57%,#282828 19.55%,#2d2d2d 24.2%,#2e2e2e 30%,#2e2e2e 34.3%,#2c2c2c 34.45%,#262626 34.62%,#202020 34.77%,#0e0e0e 35.15%,#060606 35.35%,#030303 35.5%,#010101 35.65%,#010101 43.48%,#000000 43.5%,#000000 43.9%,#020202 44.33%,#060606 44.95%,#060606 45.52%,#101010 46.73%,#121212 47.17%,#0e0e0e 48.02%,#020202 49.55%,#000000 49.98%,#020202 50.45%,#0e0e0e 51.98%,#121212 52.83%,#101010 53.27%,#060606 54.48%,#060606 55.05%,#020202 55.67%,#000000 56.1%,#000000 56.5%,#010101 56.52%,#010101 64.35%,#030303 64.5%,#060606 64.65%,#0d0d0d 64.83%,#202020 65.22%,#272727 65.4%,#2c2c2c 65.58%,#2e2e2e 65.75%,#2e2e2e 71.05%,#2d2d2d 75.03%,#282828 80.05%,#181818 88.25%,#010101 97.88%,#000000 98.88%,#010101 100%);--b10:linear-gradient(90deg,#040404 0%,#151515 10%,#202020 18.73%,#252525 24.77%,#272727 34.25%,#252525 34.42%,#212121 34.6%,#1b1b1b 34.77%,#0b0b0b 35.17%,#060606 35.35%,#020202 35.5%,#010101 35.65%,#010101 43.48%,#000000 43.5%,#000000 43.9%,#010101 44.33%,#050505 44.95%,#060606 45.52%,#0e0e0e 46.73%,#101010 47.17%,#0c0c0c 48.02%,#020202 49.55%,#000000 49.98%,#020202 50.45%,#0c0c0c 51.98%,#101010 52.83%,#0e0e0e 53.27%,#060606 54.48%,#050505 55.05%,#010101 55.67%,#000000 56.1%,#000000 56.5%,#010101 56.52%,#010101 64.35%,#020202 64.5%,#060606 64.65%,#0b0b0b 64.83%,#1b1b1b 65.22%,#212121 65.4%,#252525 65.58%,#272727 65.75%,#252525 75.22%,#202020 81.28%,#151515 90%,#040404 100%);--b11:linear-gradient(90deg,#080808 0%,#121212 8.93%,#1a1a1a 16.9%,#1e1e1e 24.75%,#202020 34.25%,#1f1f1f 34.42%,#1b1b1b 34.6%,#090909 35.17%,#050505 35.35%,#020202 35.5%,#010101 35.65%,#010101 43.48%,#000000 43.5%,#000000 43.9%,#010101 44.33%,#050505 44.95%,#050505 45.52%,#0d0d0d 46.73%,#0e0e0e 47.17%,#0b0b0b 48.02%,#010101 49.55%,#000000 49.98%,#010101 50.45%,#0b0b0b 51.98%,#0e0e0e 52.83%,#0d0d0d 53.27%,#050505 54.48%,#050505 55.05%,#010101 55.67%,#000000 56.1%,#000000 56.5%,#010101 56.52%,#010101 64.35%,#020202 64.5%,#050505 64.65%,#090909 64.83%,#1b1b1b 65.4%,#1f1f1f 65.58%,#202020 65.75%,#1e1e1e 75.25%,#1a1a1a 83.1%,#121212 91.08%,#080808 100%);--b12:linear-gradient(90deg,#0c0c0c 0%,#131313 9.82%,#191919 19.73%,#1b1b1b 24.95%,#1c1c1c 34.25%,#1b1b1b 34.42%,#181818 34.6%,#040404 35.35%,#020202 35.5%,#010101 35.65%,#010101 43.48%,#000000 43.5%,#000000 43.9%,#010101 44.33%,#040404 44.95%,#050505 45.52%,#0b0b0b 46.73%,#0c0c0c 47.17%,#0a0a0a 48.02%,#010101 49.55%,#000000 49.98%,#010101 50.45%,#0a0a0a 51.98%,#0c0c0c 52.83%,#0b0b0b 53.27%,#050505 54.48%,#040404 55.05%,#010101 55.67%,#000000 56.1%,#000000 56.5%,#010101 56.52%,#010101 64.35%,#020202 64.5%,#040404 64.65%,#181818 65.4%,#1b1b1b 65.58%,#1c1c1c 65.75%,#1b1b1b 75.05%,#191919 80.28%,#131313 90.17%,#0c0c0c 100%);">
<i style="top:0px;height:60px;background:var(--b12)"></i>
<i class="m" style="top:0px;height:59px;background:var(--b11)"></i>
<i style="top:59px;height:59px;background:var(--b11)"></i>
<i class="m" style="top:59px;height:58px;background:var(--b10)"></i>
<i style="top:117px;height:59px;background:var(--b10)"></i>
<i class="m" style="top:117px;height:58px;background:var(--b9)"></i>
<i style="top:175px;height:59px;background:var(--b9)"></i>
<i class="m" style="top:175px;height:58px;background:var(--b8)"></i>
<i style="top:233px;height:58px;background:var(--b8)"></i>
<i class="m" style="top:233px;height:57px;background:var(--b7)"></i>
<i style="top:290px;height:59px;background:var(--b7)"></i>
<i class="m" style="top:290px;height:58px;background:var(--b6)"></i>
<i style="top:348px;height:59px;background:var(--b6)"></i>
<i class="m" style="top:348px;height:58px;background:var(--b5)"></i>
<i style="top:406px;height:59px;background:var(--b5)"></i>
<i class="m" style="top:406px;height:58px;background:var(--b4)"></i>
<i style="top:464px;height:58px;background:var(--b4)"></i>
<i class="m" style="top:464px;height:57px;background:var(--b3)"></i>
<i style="top:521px;height:59px;background:var(--b3)"></i>
<i class="m" style="top:521px;height:58px;background:var(--b2)"></i>
<i style="top:579px;height:59px;background:var(--b2)"></i>
<i class="m" style="top:579px;height:58px;background:var(--b1)"></i>
<i style="top:637px;height:58px;background:var(--b1)"></i>
<i class="m" style="top:637px;height:58px;background:var(--b0)"></i>
</div>
<svg width="2677" height="1732" viewBox="0 0 2677 1732">
<defs>
<linearGradient id="rainbow" x1="0" y1="0" x2="0" y2="1">
<stop offset="0" stop-color="#ff0a00"/><stop offset="0.25" stop-color="#ffff00"/><stop offset="0.5" stop-color="#00ff00"/><stop offset="0.75" stop-color="#00ffff"/><stop offset="1" stop-color="#0000ff"/>
</linearGradient>
</defs>
<clipPath id="clipA"><rect x="1633.6" y="28.5" width="865.9" height="693"/></clipPath>
<clipPath id="clipB"><rect x="1633.6" y="902.6" width="865.9" height="692.4"/></clipPath>
<path d="M1633.1,387.0C1636.9,386.5 1647.8,385.0 1656.0,383.7C1664.1,382.5 1673.3,380.9 1681.9,379.3C1690.6,377.8 1699.3,376.0 1707.9,374.3C1716.6,372.5 1725.2,370.8 1733.9,368.8C1742.6,366.8 1751.2,364.7 1759.9,362.3C1768.5,359.9 1777.2,357.3 1785.8,354.5C1794.5,351.7 1804.0,348.6 1811.8,345.7C1819.6,342.8 1827.9,339.1 1832.6,337.0C1837.3,335.0 1836.6,335.3 1840.0,333.3C1843.4,331.3 1848.7,328.3 1853.0,325.2C1857.3,322.1 1862.1,318.3 1866.0,314.9C1869.9,311.4 1872.9,308.4 1876.4,304.4C1879.8,300.4 1883.9,295.1 1886.8,291.1C1889.6,287.0 1891.8,283.1 1893.2,280.3C1894.7,277.4 1895.0,274.8 1895.3,273.8C1895.5,272.0 1896.4,265.1 1896.6,263.4C1897.6,260.8 1900.4,252.8 1902.3,247.8C1904.2,242.8 1906.5,236.6 1908.1,233.3C1909.6,230.0 1910.5,229.0 1911.4,227.8C1912.3,226.7 1912.8,226.3 1913.5,226.5C1914.2,226.6 1914.8,227.4 1915.6,228.7C1916.3,230.1 1916.9,230.9 1917.9,234.7C1919.0,238.4 1920.5,245.1 1921.8,251.2C1923.1,257.2 1924.5,265.1 1925.7,270.9C1926.9,276.8 1928.1,282.6 1928.8,286.1C1929.6,289.6 1929.8,291.9 1930.4,291.9C1931.0,292.0 1931.5,291.9 1932.2,286.2C1932.9,280.6 1933.9,270.6 1934.8,258.2C1935.7,245.7 1936.5,226.1 1937.4,211.4C1938.3,196.7 1939.1,182.9 1940.0,169.9C1940.9,156.9 1941.7,143.9 1942.6,133.5C1943.5,123.1 1944.3,114.2 1945.2,107.5C1946.1,100.9 1947.1,96.7 1947.8,93.4C1948.5,90.2 1949.0,89.1 1949.6,88.0C1950.2,86.8 1950.6,86.2 1951.2,86.5C1951.7,86.8 1952.2,87.8 1952.7,89.6C1953.2,91.3 1953.7,91.5 1954.3,97.1C1954.9,102.7 1955.7,113.2 1956.4,123.1C1957.0,133.1 1957.6,144.8 1958.2,156.9C1958.8,169.0 1959.4,181.6 1960.0,195.8C1960.6,210.1 1961.4,227.4 1962.1,242.6C1962.8,257.7 1963.5,272.9 1964.2,286.8C1964.8,300.6 1965.5,313.6 1966.2,325.7C1967.0,337.8 1967.7,349.5 1968.6,359.5C1969.4,369.4 1970.3,379.4 1971.2,385.5C1972.0,391.6 1972.9,393.2 1973.8,396.1C1974.6,399.0 1975.3,400.9 1976.4,402.8C1977.4,404.7 1979.0,406.5 1980.3,407.6C1981.6,408.8 1982.6,409.5 1984.2,409.6C1985.7,409.7 1987.7,408.7 1989.4,408.2C1991.0,407.7 1993.0,407.0 1993.8,406.8C1994.2,406.5 1993.8,406.3 1994.2,406.8C1994.8,407.4 1996.8,408.5 1997.8,410.1C1998.8,411.7 1999.5,413.5 2000.4,416.5C2001.3,419.5 2002.1,423.5 2003.0,428.1C2003.9,432.6 2004.7,437.9 2005.6,443.7C2006.5,449.4 2007.4,456.8 2008.2,462.4C2009.0,467.9 2009.6,472.8 2010.3,476.9C2011.0,481.0 2012.0,485.4 2012.3,487.1C2012.7,485.8 2013.8,482.4 2014.4,479.0C2015.0,475.6 2015.5,471.0 2016.0,466.5C2016.5,462.0 2016.8,456.0 2017.2,452.0C2017.7,448.0 2018.4,444.2 2018.6,442.6C2018.8,443.8 2019.3,445.9 2019.6,449.9C2020.0,453.9 2020.2,456.3 2020.7,466.5C2021.1,476.7 2021.7,498.5 2022.2,511.2C2022.7,523.8 2023.3,532.6 2023.8,542.3C2024.2,552.0 2024.5,562.9 2024.8,569.6C2025.0,576.2 2025.2,580.1 2025.3,582.2C2025.4,580.7 2025.8,576.2 2026.1,573.5C2026.3,570.7 2026.5,568.3 2026.9,565.7C2027.2,563.1 2027.6,561.8 2028.0,557.9C2028.5,554.0 2029.1,547.5 2029.6,542.3C2030.1,537.1 2030.6,531.9 2031.2,526.7C2031.7,521.5 2032.2,516.3 2032.7,511.2C2033.2,506.0 2033.8,502.0 2034.3,495.6C2034.8,489.2 2035.2,479.7 2035.7,472.8C2036.2,465.8 2036.8,459.3 2037.3,454.1C2037.8,448.9 2038.3,445.2 2038.9,441.6C2039.5,438.0 2040.1,435.3 2040.9,432.5C2041.8,429.7 2042.8,426.9 2044.1,424.9C2045.3,423.0 2046.5,421.9 2048.2,420.9C2049.9,419.9 2051.4,419.5 2054.4,419.1C2057.5,418.7 2062.5,418.4 2066.6,418.4C2070.6,418.4 2075.6,418.7 2078.7,419.1C2081.7,419.5 2083.2,419.9 2084.9,420.9C2086.6,421.9 2087.8,423.0 2089.0,424.9C2090.3,426.9 2091.3,429.7 2092.2,432.5C2093.0,435.3 2093.6,438.0 2094.2,441.6C2094.8,445.2 2095.3,448.9 2095.8,454.1C2096.3,459.3 2096.9,465.8 2097.4,472.8C2097.9,479.7 2098.3,489.2 2098.8,495.6C2099.3,502.0 2099.9,506.0 2100.4,511.2C2100.9,516.3 2101.4,521.5 2101.9,526.7C2102.5,531.9 2103.0,537.1 2103.5,542.3C2104.0,547.5 2104.6,554.0 2105.1,557.9C2105.5,561.8 2105.9,563.1 2106.2,565.7C2106.6,568.3 2106.8,570.7 2107.0,573.5C2107.3,576.2 2107.7,580.7 2107.8,582.2C2107.9,580.1 2108.1,576.2 2108.3,569.6C2108.6,562.9 2108.9,552.0 2109.3,542.3C2109.8,532.6 2110.4,523.8 2110.9,511.2C2111.4,498.5 2112.0,476.7 2112.4,466.5C2112.9,456.3 2113.1,453.9 2113.5,449.9C2113.8,445.9 2114.3,443.8 2114.5,442.6C2114.7,444.2 2115.4,448.0 2115.9,452.0C2116.3,456.0 2116.6,462.0 2117.1,466.5C2117.6,471.0 2118.1,475.6 2118.7,479.0C2119.3,482.4 2120.4,485.8 2120.8,487.1C2121.1,485.4 2122.1,481.0 2122.8,476.9C2123.5,472.8 2124.1,467.9 2124.9,462.4C2125.7,456.8 2126.6,449.4 2127.5,443.7C2128.4,437.9 2129.2,432.6 2130.1,428.1C2131.0,423.5 2131.8,419.5 2132.7,416.5C2133.6,413.5 2134.3,411.7 2135.3,410.1C2136.3,408.5 2138.3,407.4 2138.9,406.8C2139.3,406.3 2138.9,406.5 2139.3,406.8C2140.1,407.0 2142.1,407.7 2143.7,408.2C2145.4,408.7 2147.4,409.7 2148.9,409.6C2150.5,409.5 2151.5,408.8 2152.8,407.6C2154.1,406.5 2155.7,404.7 2156.7,402.8C2157.8,400.9 2158.5,399.0 2159.3,396.1C2160.2,393.2 2161.1,391.6 2161.9,385.5C2162.8,379.4 2163.7,369.4 2164.5,359.5C2165.4,349.5 2166.1,337.8 2166.9,325.7C2167.6,313.6 2168.3,300.6 2168.9,286.8C2169.6,272.9 2170.3,257.7 2171.0,242.6C2171.7,227.4 2172.5,210.1 2173.1,195.8C2173.7,181.6 2174.3,169.0 2174.9,156.9C2175.5,144.8 2176.1,133.1 2176.7,123.1C2177.4,113.2 2178.2,102.7 2178.8,97.1C2179.4,91.5 2179.9,91.3 2180.4,89.6C2180.9,87.8 2181.4,86.8 2181.9,86.5C2182.5,86.2 2182.9,86.8 2183.5,88.0C2184.1,89.1 2184.6,90.2 2185.3,93.4C2186.0,96.7 2187.0,100.9 2187.9,107.5C2188.8,114.2 2189.6,123.1 2190.5,133.5C2191.4,143.9 2192.2,156.9 2193.1,169.9C2194.0,182.9 2194.8,196.7 2195.7,211.4C2196.6,226.1 2197.4,245.7 2198.3,258.2C2199.2,270.6 2200.2,280.6 2200.9,286.2C2201.6,291.9 2202.1,292.0 2202.7,291.9C2203.3,291.9 2203.5,289.6 2204.3,286.1C2205.0,282.6 2206.2,276.8 2207.4,270.9C2208.6,265.1 2210.0,257.2 2211.3,251.2C2212.6,245.1 2214.1,238.4 2215.2,234.7C2216.2,230.9 2216.8,230.1 2217.5,228.7C2218.3,227.4 2218.9,226.6 2219.6,226.5C2220.3,226.3 2220.8,226.7 2221.7,227.8C2222.6,229.0 2223.5,230.0 2225.0,233.3C2226.6,236.6 2228.9,242.8 2230.8,247.8C2232.7,252.8 2235.5,260.8 2236.5,263.4C2236.7,265.1 2237.6,272.0 2237.8,273.8C2238.1,274.8 2238.4,277.4 2239.9,280.3C2241.3,283.1 2243.5,287.0 2246.3,291.1C2249.2,295.1 2253.3,300.4 2256.7,304.4C2260.2,308.4 2263.2,311.4 2267.1,314.9C2271.0,318.3 2275.8,322.1 2280.1,325.2C2284.4,328.3 2289.7,331.3 2293.1,333.3C2296.5,335.3 2295.8,335.0 2300.5,337.0C2305.2,339.1 2313.5,342.8 2321.3,345.7C2329.1,348.6 2338.6,351.7 2347.3,354.5C2355.9,357.3 2364.6,359.9 2373.2,362.3C2381.9,364.7 2390.5,366.8 2399.2,368.8C2407.9,370.8 2416.5,372.5 2425.2,374.3C2433.8,376.0 2442.5,377.8 2451.2,379.3C2459.8,380.9 2469.0,382.5 2477.1,383.7C2485.3,385.0 2496.2,386.5 2500.0,387.0" fill="none" stroke="#000" stroke-width="3" stroke-linejoin="round" clip-path="url(#clipA)"/>
<path d="M1633.1,404.2C1636.9,403.8 1647.8,402.8 1656.0,402.0C1664.1,401.3 1673.3,400.4 1681.9,399.5C1690.6,398.6 1699.3,397.7 1707.9,396.5C1716.6,395.3 1727.4,393.5 1733.9,392.2C1740.4,390.9 1742.6,390.3 1746.9,388.7C1751.2,387.2 1755.5,385.6 1759.9,383.0C1764.2,380.5 1768.5,377.4 1772.9,373.5C1777.2,369.5 1781.9,364.4 1785.8,359.5C1789.7,354.6 1792.8,349.9 1796.2,343.9C1799.7,337.9 1803.2,330.7 1806.6,323.4C1810.1,316.1 1813.5,307.4 1817.0,300.0C1820.5,292.6 1823.9,284.7 1827.4,278.7C1830.9,272.7 1834.4,267.5 1837.8,264.0C1841.2,260.5 1844.8,257.5 1847.8,257.7C1850.8,257.8 1853.4,262.2 1855.6,265.0C1857.7,267.7 1859.0,270.6 1860.8,274.3C1862.5,278.0 1864.2,282.5 1866.0,287.0C1867.7,291.6 1869.4,296.3 1871.2,301.6C1872.9,306.8 1874.6,312.5 1876.4,318.7C1878.1,324.9 1879.8,332.0 1881.6,338.7C1883.3,345.4 1885.0,352.5 1886.8,359.0C1888.5,365.5 1890.2,371.6 1891.9,377.7C1893.7,383.7 1895.4,389.7 1897.1,395.3C1898.9,401.0 1900.6,406.3 1902.3,411.4C1904.1,416.6 1906.1,422.5 1907.5,426.2C1908.9,429.9 1909.4,430.5 1910.6,433.6C1911.9,436.6 1913.4,440.7 1914.8,444.4C1916.2,448.1 1917.6,452.1 1919.0,455.8C1920.3,459.6 1921.7,463.3 1923.1,467.1C1924.5,470.8 1926.1,474.5 1927.3,478.3C1928.5,482.0 1929.5,485.7 1930.4,489.4C1931.3,493.1 1931.8,495.9 1932.5,500.5C1933.2,505.1 1933.9,511.6 1934.5,517.1C1935.2,522.7 1935.8,529.2 1936.6,533.8C1937.4,538.4 1938.5,542.1 1939.3,544.8C1940.2,547.5 1941.1,549.0 1941.8,550.2C1942.6,551.3 1943.0,551.9 1943.9,551.6C1944.8,551.3 1946.0,550.0 1947.0,548.4C1948.1,546.7 1948.9,544.8 1950.1,541.6C1951.3,538.4 1952.9,533.6 1954.3,529.2C1955.7,524.8 1957.1,519.8 1958.4,515.1C1959.8,510.3 1961.2,505.3 1962.6,500.5C1964.0,495.7 1965.4,490.8 1966.8,486.4C1968.1,482.0 1969.5,477.7 1970.9,473.9C1972.3,470.2 1973.3,467.3 1975.1,463.9C1976.8,460.6 1979.2,456.4 1981.3,453.6C1983.4,450.8 1985.5,448.8 1987.5,447.1C1989.6,445.4 1992.5,443.9 1993.8,443.4C1995.0,442.9 1994.1,444.4 1995.2,444.2C1996.3,444.0 1998.8,442.0 2000.4,442.1C2002.0,442.2 2003.3,443.3 2004.6,444.8C2005.8,446.3 2006.6,448.0 2007.7,450.9C2008.7,453.8 2009.9,458.6 2010.8,462.2C2011.7,465.9 2012.3,469.8 2012.9,472.8C2013.5,475.8 2014.2,479.0 2014.4,480.2C2014.7,479.0 2015.5,475.1 2016.0,472.8C2016.5,470.5 2017.0,467.6 2017.2,466.5C2017.5,469.3 2018.1,475.7 2018.6,483.2C2019.0,490.6 2019.4,501.3 2019.9,511.2C2020.3,521.0 2020.9,533.9 2021.4,542.3C2021.9,550.7 2022.5,557.2 2023.0,561.8C2023.4,566.3 2023.8,567.7 2024.1,569.6C2024.5,571.4 2024.9,572.5 2025.1,573.1C2025.2,572.1 2025.8,568.9 2026.1,567.2C2026.4,565.5 2026.7,563.7 2026.9,562.9C2027.1,564.0 2027.6,566.5 2028.0,569.6C2028.5,572.6 2029.1,576.7 2029.6,581.2C2030.1,585.8 2030.4,588.5 2031.2,596.8C2031.9,605.2 2033.2,622.4 2034.3,631.4C2035.3,640.4 2036.4,645.3 2037.4,650.8C2038.4,656.2 2039.5,660.7 2040.5,664.1C2041.6,667.4 2042.6,671.0 2043.6,670.9C2044.7,670.8 2045.7,667.0 2046.8,663.2C2047.8,659.4 2048.8,656.1 2049.9,648.1C2050.9,640.0 2051.9,627.6 2053.0,614.8C2054.0,602.0 2055.1,586.4 2056.1,571.2C2057.1,555.9 2058.2,539.7 2059.2,523.4C2060.3,507.1 2061.4,487.7 2062.3,473.5C2063.3,459.3 2064.1,446.5 2064.8,438.2C2065.5,429.9 2066.3,426.1 2066.6,423.6C2066.9,426.1 2067.6,429.9 2068.3,438.2C2069.0,446.5 2069.8,459.3 2070.8,473.5C2071.7,487.7 2072.8,507.1 2073.9,523.4C2074.9,539.7 2076.0,555.9 2077.0,571.2C2078.0,586.4 2079.1,602.0 2080.1,614.8C2081.2,627.6 2082.2,640.0 2083.2,648.1C2084.3,656.1 2085.3,659.4 2086.3,663.2C2087.4,667.0 2088.4,670.8 2089.5,670.9C2090.5,671.0 2091.5,667.4 2092.6,664.1C2093.6,660.7 2094.7,656.2 2095.7,650.8C2096.7,645.3 2097.8,640.4 2098.8,631.4C2099.9,622.4 2101.2,605.2 2101.9,596.8C2102.7,588.5 2103.0,585.8 2103.5,581.2C2104.0,576.7 2104.6,572.6 2105.1,569.6C2105.5,566.5 2106.0,564.0 2106.2,562.9C2106.4,563.7 2106.7,565.5 2107.0,567.2C2107.3,568.9 2107.9,572.1 2108.0,573.1C2108.2,572.5 2108.6,571.4 2109.0,569.6C2109.3,567.7 2109.7,566.3 2110.1,561.8C2110.6,557.2 2111.2,550.7 2111.7,542.3C2112.2,533.9 2112.8,521.0 2113.2,511.2C2113.7,501.3 2114.1,490.6 2114.5,483.2C2115.0,475.7 2115.6,469.3 2115.9,466.5C2116.1,467.6 2116.6,470.5 2117.1,472.8C2117.6,475.1 2118.4,479.0 2118.7,480.2C2118.9,479.0 2119.6,475.8 2120.2,472.8C2120.8,469.8 2121.4,465.9 2122.3,462.2C2123.2,458.6 2124.4,453.8 2125.4,450.9C2126.5,448.0 2127.3,446.3 2128.5,444.8C2129.8,443.3 2131.1,442.2 2132.7,442.1C2134.3,442.0 2136.8,444.0 2137.9,444.2C2139.0,444.4 2138.1,442.9 2139.3,443.4C2140.6,443.9 2143.5,445.4 2145.6,447.1C2147.6,448.8 2149.7,450.8 2151.8,453.6C2153.9,456.4 2156.3,460.6 2158.0,463.9C2159.8,467.3 2160.8,470.2 2162.2,473.9C2163.6,477.7 2165.0,482.0 2166.3,486.4C2167.7,490.8 2169.1,495.7 2170.5,500.5C2171.9,505.3 2173.3,510.3 2174.7,515.1C2176.0,519.8 2177.4,524.8 2178.8,529.2C2180.2,533.6 2181.8,538.4 2183.0,541.6C2184.2,544.8 2185.0,546.7 2186.1,548.4C2187.1,550.0 2188.3,551.3 2189.2,551.6C2190.1,551.9 2190.5,551.3 2191.3,550.2C2192.0,549.0 2192.9,547.5 2193.8,544.8C2194.6,542.1 2195.7,538.4 2196.5,533.8C2197.3,529.2 2197.9,522.7 2198.6,517.1C2199.2,511.6 2199.9,505.1 2200.6,500.5C2201.3,495.9 2201.8,493.1 2202.7,489.4C2203.6,485.7 2204.6,482.0 2205.8,478.3C2207.0,474.5 2208.6,470.8 2210.0,467.1C2211.4,463.3 2212.8,459.6 2214.1,455.8C2215.5,452.1 2216.9,448.1 2218.3,444.4C2219.7,440.7 2221.2,436.6 2222.5,433.6C2223.7,430.5 2224.2,429.9 2225.6,426.2C2227.0,422.5 2229.0,416.6 2230.8,411.4C2232.5,406.3 2234.2,401.0 2236.0,395.3C2237.7,389.7 2239.4,383.7 2241.2,377.7C2242.9,371.6 2244.6,365.5 2246.3,359.0C2248.1,352.5 2249.8,345.4 2251.5,338.7C2253.3,332.0 2255.0,324.9 2256.7,318.7C2258.5,312.5 2260.2,306.8 2261.9,301.6C2263.7,296.3 2265.4,291.6 2267.1,287.0C2268.9,282.5 2270.6,278.0 2272.3,274.3C2274.1,270.6 2275.4,267.7 2277.5,265.0C2279.7,262.2 2282.3,257.8 2285.3,257.7C2288.3,257.5 2291.9,260.5 2295.3,264.0C2298.7,267.5 2302.2,272.7 2305.7,278.7C2309.2,284.7 2312.6,292.6 2316.1,300.0C2319.6,307.4 2323.0,316.1 2326.5,323.4C2329.9,330.7 2333.4,337.9 2336.9,343.9C2340.3,349.9 2343.4,354.6 2347.3,359.5C2351.2,364.4 2355.9,369.5 2360.2,373.5C2364.6,377.4 2368.9,380.5 2373.2,383.0C2377.6,385.6 2381.9,387.2 2386.2,388.7C2390.5,390.3 2392.7,390.9 2399.2,392.2C2405.7,393.5 2416.5,395.3 2425.2,396.5C2433.8,397.7 2442.5,398.6 2451.2,399.5C2459.8,400.4 2469.0,401.3 2477.1,402.0C2485.3,402.8 2496.2,403.8 2500.0,404.2" fill="none" stroke="#e0000c" stroke-width="3" stroke-linejoin="round" clip-path="url(#clipA)"/>
<path d="M1633.1,383.4C1635.2,381.5 1640.9,376.7 1645.6,372.2C1650.3,367.6 1656.0,362.5 1661.2,356.4C1666.4,350.2 1671.6,342.9 1676.8,335.3C1681.9,327.7 1687.1,319.1 1692.3,310.6C1697.5,302.1 1703.2,292.0 1707.9,284.3C1712.7,276.6 1716.6,270.1 1720.9,264.6C1725.2,259.0 1730.0,254.2 1733.9,251.0C1737.8,247.7 1740.8,245.2 1744.3,244.9C1747.7,244.7 1751.2,247.0 1754.7,249.7C1758.1,252.3 1761.6,255.8 1765.1,260.9C1768.5,266.0 1772.0,272.7 1775.5,280.3C1778.9,287.8 1782.4,297.0 1785.8,306.2C1789.3,315.5 1791.9,322.8 1796.2,335.8C1800.6,348.8 1807.5,371.2 1811.8,384.3C1816.1,397.3 1818.7,404.9 1822.2,414.3C1825.7,423.7 1829.1,432.1 1832.6,440.5C1836.1,449.0 1840.7,459.5 1843.0,465.0C1845.3,470.4 1844.7,469.3 1846.2,473.1C1847.8,476.9 1850.0,482.5 1852.5,487.6C1854.9,492.7 1858.0,499.0 1860.8,503.8C1863.5,508.7 1866.3,512.8 1869.1,516.5C1871.9,520.2 1874.6,523.3 1877.4,526.1C1880.2,528.9 1882.9,531.3 1885.7,533.5C1888.5,535.7 1891.3,537.6 1894.0,539.3C1896.8,541.1 1899.2,542.4 1902.3,544.0C1905.5,545.5 1909.3,547.1 1912.7,548.6C1916.2,550.0 1919.8,551.4 1923.1,552.5C1926.5,553.6 1931.3,554.7 1932.9,555.2C1933.3,554.4 1934.8,552.8 1935.6,550.8C1936.4,548.8 1936.8,546.7 1937.7,543.2C1938.5,539.6 1939.7,534.2 1940.8,529.5C1941.8,524.9 1942.7,520.6 1943.9,515.2C1945.1,509.8 1946.7,502.7 1948.1,497.2C1949.4,491.7 1950.8,486.8 1952.2,482.2C1953.6,477.7 1955.0,473.6 1956.4,470.0C1957.7,466.3 1959.1,463.2 1960.5,460.4C1961.9,457.6 1962.9,455.7 1964.7,453.1C1966.4,450.6 1968.8,447.2 1970.9,445.0C1973.0,442.7 1974.7,441.0 1977.1,439.4C1979.6,437.9 1982.7,436.5 1985.5,435.5C1988.2,434.5 1992.1,433.9 1993.8,433.5C1995.2,433.1 1994.3,433.1 1995.2,433.1C1996.1,433.0 1998.0,432.7 1999.4,433.1C2000.7,433.4 2002.1,434.2 2003.5,435.4C2004.9,436.6 2006.5,438.3 2007.7,440.1C2008.9,442.0 2009.8,444.1 2010.8,446.4C2011.7,448.7 2012.6,451.6 2013.4,453.9C2014.2,456.2 2014.8,458.8 2015.5,460.1C2016.1,461.4 2016.9,461.3 2017.2,461.5C2017.4,461.7 2017.9,460.5 2018.3,462.4C2018.7,464.2 2019.2,467.2 2019.6,472.8C2020.1,478.3 2020.5,489.2 2021.0,495.6C2021.5,502.0 2022.1,507.4 2022.6,511.2C2023.0,514.9 2023.4,516.2 2023.8,518.1C2024.1,520.1 2024.3,521.9 2024.9,522.7C2025.6,523.5 2027.2,522.9 2027.6,523.0C2027.8,523.9 2028.4,525.7 2028.8,528.3C2029.2,530.9 2029.6,534.8 2030.0,538.4C2030.4,542.0 2030.7,545.6 2031.2,550.1C2031.6,554.6 2032.2,560.5 2032.7,565.7C2033.2,570.9 2033.7,576.1 2034.3,581.2C2034.8,586.4 2034.8,590.1 2035.8,596.8C2036.9,603.6 2039.2,614.7 2040.5,621.7C2041.8,628.7 2042.6,633.7 2043.6,638.9C2044.7,644.1 2045.8,649.4 2046.8,653.0C2047.7,656.6 2048.7,658.7 2049.5,660.3C2050.2,661.9 2050.6,662.7 2051.1,662.6C2051.7,662.5 2052.1,661.7 2052.8,659.6C2053.5,657.5 2054.4,655.9 2055.3,650.1C2056.1,644.4 2057.0,635.6 2057.8,625.2C2058.5,614.8 2059.2,602.7 2059.8,587.8C2060.5,572.9 2061.2,553.2 2061.9,535.8C2062.6,518.5 2063.4,497.4 2064.0,483.9C2064.6,470.4 2065.2,461.0 2065.7,454.8C2066.1,448.6 2066.4,448.2 2066.6,446.9C2066.7,448.2 2067.0,448.6 2067.4,454.8C2067.9,461.0 2068.5,470.4 2069.1,483.9C2069.7,497.4 2070.5,518.5 2071.2,535.8C2071.9,553.2 2072.6,572.9 2073.3,587.8C2073.9,602.7 2074.6,614.8 2075.3,625.2C2076.1,635.6 2077.0,644.4 2077.8,650.1C2078.7,655.9 2079.6,657.5 2080.3,659.6C2081.0,661.7 2081.4,662.5 2082.0,662.6C2082.5,662.7 2082.9,661.9 2083.6,660.3C2084.4,658.7 2085.4,656.6 2086.3,653.0C2087.3,649.4 2088.4,644.1 2089.5,638.9C2090.5,633.7 2091.3,628.7 2092.6,621.7C2093.9,614.7 2096.2,603.6 2097.3,596.8C2098.3,590.1 2098.3,586.4 2098.8,581.2C2099.4,576.1 2099.9,570.9 2100.4,565.7C2100.9,560.5 2101.5,554.6 2101.9,550.1C2102.4,545.6 2102.7,542.0 2103.1,538.4C2103.5,534.8 2103.9,530.9 2104.3,528.3C2104.7,525.7 2105.3,523.9 2105.5,523.0C2105.9,522.9 2107.5,523.5 2108.2,522.7C2108.8,521.9 2109.0,520.1 2109.3,518.1C2109.7,516.2 2110.1,514.9 2110.5,511.2C2111.0,507.4 2111.6,502.0 2112.1,495.6C2112.6,489.2 2113.0,478.3 2113.5,472.8C2113.9,467.2 2114.4,464.2 2114.8,462.4C2115.2,460.5 2115.7,461.7 2115.9,461.5C2116.2,461.3 2117.0,461.4 2117.6,460.1C2118.3,458.8 2118.9,456.2 2119.7,453.9C2120.5,451.6 2121.4,448.7 2122.3,446.4C2123.3,444.1 2124.2,442.0 2125.4,440.1C2126.6,438.3 2128.2,436.6 2129.6,435.4C2131.0,434.2 2132.4,433.4 2133.7,433.1C2135.1,432.7 2137.0,433.0 2137.9,433.1C2138.8,433.1 2137.9,433.1 2139.3,433.5C2141.0,433.9 2144.9,434.5 2147.6,435.5C2150.4,436.5 2153.5,437.9 2156.0,439.4C2158.4,441.0 2160.1,442.7 2162.2,445.0C2164.3,447.2 2166.7,450.6 2168.4,453.1C2170.2,455.7 2171.2,457.6 2172.6,460.4C2174.0,463.2 2175.4,466.3 2176.7,470.0C2178.1,473.6 2179.5,477.7 2180.9,482.2C2182.3,486.8 2183.7,491.7 2185.0,497.2C2186.4,502.7 2188.0,509.8 2189.2,515.2C2190.4,520.6 2191.3,524.9 2192.3,529.5C2193.4,534.2 2194.6,539.6 2195.4,543.2C2196.3,546.7 2196.7,548.8 2197.5,550.8C2198.3,552.8 2199.8,554.4 2200.2,555.2C2201.8,554.7 2206.6,553.6 2210.0,552.5C2213.3,551.4 2216.9,550.0 2220.4,548.6C2223.8,547.1 2227.6,545.5 2230.8,544.0C2233.9,542.4 2236.3,541.1 2239.1,539.3C2241.8,537.6 2244.6,535.7 2247.4,533.5C2250.2,531.3 2252.9,528.9 2255.7,526.1C2258.5,523.3 2261.2,520.2 2264.0,516.5C2266.8,512.8 2269.6,508.7 2272.3,503.8C2275.1,499.0 2278.2,492.7 2280.6,487.6C2283.1,482.5 2285.3,476.9 2286.9,473.1C2288.4,469.3 2287.8,470.4 2290.1,465.0C2292.4,459.5 2297.0,449.0 2300.5,440.5C2304.0,432.1 2307.4,423.7 2310.9,414.3C2314.4,404.9 2317.0,397.3 2321.3,384.3C2325.6,371.2 2332.5,348.8 2336.9,335.8C2341.2,322.8 2343.8,315.5 2347.3,306.2C2350.7,297.0 2354.2,287.8 2357.6,280.3C2361.1,272.7 2364.6,266.0 2368.0,260.9C2371.5,255.8 2375.0,252.3 2378.4,249.7C2381.9,247.0 2385.4,244.7 2388.8,244.9C2392.3,245.2 2395.3,247.7 2399.2,251.0C2403.1,254.2 2407.9,259.0 2412.2,264.6C2416.5,270.1 2420.4,276.6 2425.2,284.3C2429.9,292.0 2435.6,302.1 2440.8,310.6C2446.0,319.1 2451.2,327.7 2456.3,335.3C2461.5,342.9 2466.7,350.2 2471.9,356.4C2477.1,362.5 2482.8,367.6 2487.5,372.2C2492.2,376.7 2497.9,381.5 2500.0,383.4" fill="none" stroke="#0a0aee" stroke-width="3" stroke-linejoin="round" clip-path="url(#clipA)"/>
<path d="M1633.8,1595.0C1655.2,1595.0 1731.3,1594.9 1762.3,1594.8C1793.3,1594.7 1808.2,1594.4 1820.0,1594.1C1831.8,1593.9 1828.7,1593.6 1833.0,1593.2C1837.3,1592.7 1841.6,1592.1 1846.0,1591.5C1850.3,1590.9 1855.1,1590.2 1859.0,1589.5C1862.9,1588.8 1866.3,1588.2 1869.4,1587.4C1872.4,1586.6 1874.5,1585.9 1877.1,1584.7C1879.7,1583.4 1882.6,1581.8 1884.9,1579.9C1887.3,1578.1 1889.5,1575.8 1891.4,1573.4C1893.4,1571.1 1895.1,1568.3 1896.6,1565.6C1898.1,1562.9 1899.2,1560.6 1900.5,1557.3C1901.8,1554.0 1903.3,1549.5 1904.4,1545.7C1905.5,1541.9 1906.1,1538.7 1907.0,1534.3C1907.9,1529.9 1908.9,1524.5 1909.6,1519.5C1910.4,1514.4 1910.9,1509.7 1911.6,1503.9C1912.2,1498.1 1912.9,1491.6 1913.5,1484.4C1914.2,1477.3 1914.8,1468.6 1915.5,1461.0C1916.1,1453.5 1916.6,1445.9 1917.1,1439.0C1917.6,1432.0 1917.6,1429.0 1918.4,1419.5C1919.3,1410.0 1921.2,1395.9 1922.3,1381.8C1923.5,1367.7 1924.5,1350.2 1925.5,1335.1C1926.4,1319.9 1927.2,1306.9 1928.1,1290.9C1928.9,1274.9 1929.9,1253.7 1930.6,1239.0C1931.4,1224.2 1932.1,1213.1 1932.5,1202.6C1932.9,1192.1 1932.7,1189.7 1933.1,1175.8C1933.6,1161.9 1934.5,1133.9 1935.1,1119.1C1935.7,1104.3 1936.6,1092.2 1936.9,1086.9C1937.1,1086.9 1938.1,1086.9 1938.4,1086.9C1938.6,1090.2 1939.1,1093.8 1939.6,1107.2C1940.0,1120.5 1940.7,1150.5 1941.2,1166.9C1941.7,1183.2 1942.3,1193.2 1942.7,1205.2C1943.1,1217.2 1943.2,1224.7 1943.6,1239.0C1944.0,1253.2 1944.6,1273.6 1945.2,1290.9C1945.8,1308.2 1946.4,1325.5 1947.0,1342.9C1947.6,1360.2 1948.2,1377.5 1948.8,1394.8C1949.5,1412.1 1950.2,1430.7 1950.9,1446.8C1951.6,1462.8 1952.3,1477.5 1953.0,1490.9C1953.7,1504.3 1954.4,1516.0 1955.1,1527.3C1955.8,1538.5 1956.5,1549.8 1957.1,1558.4C1957.8,1567.1 1958.4,1574.2 1959.2,1579.2C1960.0,1584.3 1960.8,1586.5 1961.8,1588.9C1962.8,1591.2 1963.5,1592.5 1965.2,1593.5C1966.8,1594.5 1965.2,1595.0 1971.7,1595.1C1980.1,1595.1 2007.6,1594.5 2015.6,1593.8C2019.3,1593.1 2018.2,1592.2 2019.3,1590.7C2020.4,1589.3 2021.3,1586.7 2022.2,1585.1C2023.1,1583.4 2024.2,1581.4 2024.6,1580.7C2025.0,1581.3 2025.9,1582.7 2026.9,1584.1C2027.9,1585.5 2029.1,1587.6 2030.7,1589.0C2032.3,1590.5 2033.8,1591.9 2036.4,1592.8C2038.9,1593.7 2040.8,1594.2 2045.8,1594.5C2050.8,1594.9 2062.8,1594.9 2066.3,1595.0C2066.8,1595.1 2066.3,1595.1 2066.8,1595.0C2070.3,1594.9 2082.3,1594.9 2087.3,1594.5C2092.3,1594.2 2094.2,1593.7 2096.7,1592.8C2099.3,1591.9 2100.8,1590.5 2102.4,1589.0C2104.0,1587.6 2105.2,1585.5 2106.2,1584.1C2107.2,1582.7 2108.1,1581.3 2108.5,1580.7C2108.9,1581.4 2110.0,1583.4 2110.9,1585.1C2111.8,1586.7 2112.7,1589.3 2113.8,1590.7C2114.9,1592.2 2113.8,1593.1 2117.5,1593.8C2125.5,1594.5 2153.0,1595.1 2161.4,1595.1C2167.9,1595.0 2166.3,1594.5 2167.9,1593.5C2169.6,1592.5 2170.3,1591.2 2171.3,1588.9C2172.3,1586.5 2173.1,1584.3 2173.9,1579.2C2174.7,1574.2 2175.3,1567.1 2176.0,1558.4C2176.6,1549.8 2177.3,1538.5 2178.0,1527.3C2178.7,1516.0 2179.4,1504.3 2180.1,1490.9C2180.8,1477.5 2181.5,1462.8 2182.2,1446.8C2182.9,1430.7 2183.6,1412.1 2184.3,1394.8C2184.9,1377.5 2185.5,1360.2 2186.1,1342.9C2186.7,1325.5 2187.3,1308.2 2187.9,1290.9C2188.5,1273.6 2189.1,1253.2 2189.5,1239.0C2189.9,1224.7 2190.0,1217.2 2190.4,1205.2C2190.8,1193.2 2191.4,1183.2 2191.9,1166.9C2192.4,1150.5 2193.1,1120.5 2193.5,1107.2C2194.0,1093.8 2194.5,1090.2 2194.7,1086.9C2195.0,1086.9 2196.0,1086.9 2196.2,1086.9C2196.5,1092.2 2197.4,1104.3 2198.0,1119.1C2198.6,1133.9 2199.5,1161.9 2200.0,1175.8C2200.4,1189.7 2200.2,1192.1 2200.6,1202.6C2201.0,1213.1 2201.7,1224.2 2202.5,1239.0C2203.2,1253.7 2204.2,1274.9 2205.0,1290.9C2205.9,1306.9 2206.7,1319.9 2207.6,1335.1C2208.6,1350.2 2209.6,1367.7 2210.8,1381.8C2211.9,1395.9 2213.8,1410.0 2214.7,1419.5C2215.5,1429.0 2215.5,1432.0 2216.0,1439.0C2216.5,1445.9 2217.0,1453.5 2217.6,1461.0C2218.3,1468.6 2218.9,1477.3 2219.6,1484.4C2220.2,1491.6 2220.9,1498.1 2221.5,1503.9C2222.2,1509.7 2222.7,1514.4 2223.5,1519.5C2224.2,1524.5 2225.2,1529.9 2226.1,1534.3C2227.0,1538.7 2227.6,1541.9 2228.7,1545.7C2229.8,1549.5 2231.3,1554.0 2232.6,1557.3C2233.9,1560.6 2235.0,1562.9 2236.5,1565.6C2238.0,1568.3 2239.7,1571.1 2241.7,1573.4C2243.6,1575.8 2245.8,1578.1 2248.2,1579.9C2250.5,1581.8 2253.4,1583.4 2256.0,1584.7C2258.6,1585.9 2260.7,1586.6 2263.7,1587.4C2266.8,1588.2 2270.2,1588.8 2274.1,1589.5C2278.0,1590.2 2282.8,1590.9 2287.1,1591.5C2291.5,1592.1 2295.8,1592.7 2300.1,1593.2C2304.4,1593.6 2301.3,1593.9 2313.1,1594.1C2324.9,1594.4 2339.8,1594.7 2370.8,1594.8C2401.8,1594.9 2477.9,1595.0 2499.3,1595.0" fill="none" stroke="#000" stroke-width="3" stroke-linejoin="round" clip-path="url(#clipB)"/>
<path d="M1633.8,1594.9C1648.9,1594.8 1703.1,1594.6 1724.5,1594.3C1745.9,1594.0 1752.9,1593.7 1762.3,1593.3C1771.8,1592.9 1775.5,1592.5 1781.2,1591.7C1786.9,1591.0 1791.6,1590.2 1796.3,1589.0C1801.0,1587.8 1805.6,1586.3 1809.6,1584.7C1813.5,1583.0 1817.2,1581.0 1820.0,1579.2C1822.8,1577.4 1824.3,1575.9 1826.5,1573.8C1828.7,1571.6 1830.8,1569.2 1833.0,1566.5C1835.2,1563.8 1837.3,1560.7 1839.5,1557.7C1841.6,1554.6 1843.8,1551.2 1846.0,1548.1C1848.1,1544.9 1850.3,1541.5 1852.5,1538.7C1854.6,1535.9 1857.0,1533.0 1859.0,1531.0C1860.9,1529.1 1862.6,1527.9 1864.2,1526.9C1865.7,1525.9 1866.9,1525.5 1868.1,1525.1C1869.2,1524.7 1870.2,1524.4 1871.3,1524.4C1872.4,1524.5 1873.5,1524.7 1874.5,1525.4C1875.6,1526.1 1876.7,1527.0 1877.8,1528.5C1878.9,1529.9 1879.8,1531.7 1881.0,1534.1C1882.2,1536.6 1883.6,1539.9 1884.9,1543.1C1886.2,1546.3 1887.5,1549.9 1888.8,1553.5C1890.1,1557.1 1891.4,1561.1 1892.7,1564.9C1894.0,1568.8 1895.4,1573.0 1896.6,1576.5C1897.8,1579.9 1898.9,1583.0 1899.9,1585.5C1900.8,1588.1 1901.7,1590.1 1902.5,1591.7C1903.2,1593.2 1903.9,1594.1 1904.4,1594.7C1904.9,1595.2 1905.2,1595.0 1905.3,1595.1C1905.5,1594.9 1905.9,1595.4 1906.4,1594.2C1906.9,1592.9 1907.7,1590.2 1908.3,1587.7C1909.0,1585.2 1909.6,1583.0 1910.3,1579.2C1910.9,1575.4 1911.6,1569.9 1912.2,1564.9C1912.8,1560.0 1913.3,1555.2 1913.8,1549.4C1914.3,1543.5 1914.7,1536.8 1915.2,1529.9C1915.6,1522.9 1916.1,1515.4 1916.5,1507.8C1916.9,1500.2 1917.3,1492.6 1917.7,1484.4C1918.0,1476.2 1918.4,1467.1 1918.7,1458.4C1919.0,1449.8 1919.2,1440.9 1919.6,1432.5C1920.1,1424.0 1920.7,1420.6 1921.4,1407.8C1922.1,1395.0 1923.1,1373.2 1923.8,1355.8C1924.5,1338.5 1925.1,1321.2 1925.7,1303.9C1926.3,1286.6 1927.0,1267.1 1927.5,1251.9C1928.1,1236.8 1928.4,1235.1 1928.8,1213.0C1929.3,1190.8 1929.6,1144.7 1930.1,1119.1C1930.7,1093.5 1931.5,1073.6 1932.1,1059.4C1932.7,1045.2 1933.2,1039.1 1933.6,1034.0C1934.0,1029.0 1934.2,1029.0 1934.5,1029.0C1934.8,1029.0 1935.0,1029.0 1935.4,1034.0C1935.7,1039.1 1935.9,1045.2 1936.4,1059.4C1936.9,1073.6 1937.6,1099.2 1938.2,1119.1C1938.8,1139.0 1939.5,1156.7 1940.0,1178.8C1940.5,1200.9 1940.5,1231.1 1941.0,1251.9C1941.6,1272.8 1942.4,1286.6 1943.1,1303.9C1943.8,1321.2 1944.5,1338.5 1945.2,1355.8C1945.9,1373.2 1946.8,1390.5 1947.5,1407.8C1948.3,1425.1 1949.1,1444.6 1949.9,1459.7C1950.6,1474.9 1951.4,1486.6 1952.2,1498.7C1953.0,1510.8 1953.9,1522.9 1954.8,1532.5C1955.7,1542.0 1956.4,1549.1 1957.4,1555.8C1958.4,1562.5 1959.7,1568.2 1960.8,1572.7C1961.9,1577.2 1962.5,1579.9 1963.9,1582.8C1965.3,1585.7 1966.9,1588.1 1969.1,1589.8C1971.3,1591.6 1973.4,1592.5 1976.9,1593.4C1980.3,1594.3 1984.7,1594.8 1989.9,1595.1C1995.1,1595.3 2004.0,1594.9 2008.0,1594.9C2012.0,1594.9 2012.1,1596.4 2013.7,1594.9C2015.2,1593.4 2016.3,1589.3 2017.5,1585.6C2018.6,1582.0 2019.3,1577.5 2020.3,1573.2C2021.2,1568.8 2022.3,1562.3 2023.1,1559.6C2024.0,1556.8 2025.0,1557.2 2025.4,1556.7C2025.6,1557.7 2026.3,1561.2 2026.9,1562.4C2027.5,1563.6 2028.8,1563.5 2029.2,1563.7C2029.6,1562.4 2030.7,1559.2 2031.6,1555.8C2032.5,1552.3 2033.4,1547.5 2034.5,1543.1C2035.6,1538.8 2037.1,1533.0 2038.2,1529.8C2039.3,1526.6 2040.0,1523.8 2041.1,1524.0C2042.2,1524.3 2043.6,1527.8 2044.9,1531.3C2046.1,1534.7 2047.2,1539.2 2048.6,1544.8C2050.1,1550.4 2051.8,1558.5 2053.4,1564.8C2054.9,1571.2 2056.7,1578.1 2058.1,1582.8C2059.5,1587.5 2060.5,1591.2 2061.9,1593.2C2063.2,1595.2 2065.6,1594.6 2066.3,1594.9C2066.4,1594.9 2066.7,1594.9 2066.8,1594.9C2067.5,1594.6 2069.9,1595.2 2071.2,1593.2C2072.6,1591.2 2073.6,1587.5 2075.0,1582.8C2076.4,1578.1 2078.2,1571.2 2079.7,1564.8C2081.3,1558.5 2083.0,1550.4 2084.5,1544.8C2085.9,1539.2 2087.0,1534.7 2088.2,1531.3C2089.5,1527.8 2090.9,1524.3 2092.0,1524.0C2093.1,1523.8 2093.8,1526.6 2094.9,1529.8C2096.0,1533.0 2097.5,1538.8 2098.6,1543.1C2099.7,1547.5 2100.6,1552.3 2101.5,1555.8C2102.4,1559.2 2103.5,1562.4 2103.9,1563.7C2104.3,1563.5 2105.6,1563.6 2106.2,1562.4C2106.8,1561.2 2107.5,1557.7 2107.7,1556.7C2108.1,1557.2 2109.1,1556.8 2110.0,1559.6C2110.8,1562.3 2111.9,1568.8 2112.8,1573.2C2113.8,1577.5 2114.5,1582.0 2115.6,1585.6C2116.8,1589.3 2117.9,1593.4 2119.4,1594.9C2121.0,1596.4 2121.1,1594.9 2125.1,1594.9C2129.1,1594.9 2138.0,1595.3 2143.2,1595.1C2148.4,1594.8 2152.8,1594.3 2156.2,1593.4C2159.7,1592.5 2161.8,1591.6 2164.0,1589.8C2166.2,1588.1 2167.8,1585.7 2169.2,1582.8C2170.6,1579.9 2171.2,1577.2 2172.3,1572.7C2173.4,1568.2 2174.7,1562.5 2175.7,1555.8C2176.7,1549.1 2177.4,1542.0 2178.3,1532.5C2179.2,1522.9 2180.1,1510.8 2180.9,1498.7C2181.7,1486.6 2182.5,1474.9 2183.2,1459.7C2184.0,1444.6 2184.8,1425.1 2185.6,1407.8C2186.3,1390.5 2187.2,1373.2 2187.9,1355.8C2188.6,1338.5 2189.3,1321.2 2190.0,1303.9C2190.7,1286.6 2191.5,1272.8 2192.1,1251.9C2192.6,1231.1 2192.6,1200.9 2193.1,1178.8C2193.6,1156.7 2194.3,1139.0 2194.9,1119.1C2195.5,1099.2 2196.2,1073.6 2196.7,1059.4C2197.2,1045.2 2197.4,1039.1 2197.7,1034.0C2198.1,1029.0 2198.3,1029.0 2198.6,1029.0C2198.9,1029.0 2199.1,1029.0 2199.5,1034.0C2199.9,1039.1 2200.4,1045.2 2201.0,1059.4C2201.6,1073.6 2202.4,1093.5 2203.0,1119.1C2203.5,1144.7 2203.8,1190.8 2204.3,1213.0C2204.7,1235.1 2205.0,1236.8 2205.6,1251.9C2206.1,1267.1 2206.8,1286.6 2207.4,1303.9C2208.0,1321.2 2208.6,1338.5 2209.3,1355.8C2210.0,1373.2 2211.0,1395.0 2211.7,1407.8C2212.4,1420.6 2213.0,1424.0 2213.5,1432.5C2213.9,1440.9 2214.1,1449.8 2214.4,1458.4C2214.7,1467.1 2215.1,1476.2 2215.4,1484.4C2215.8,1492.6 2216.2,1500.2 2216.6,1507.8C2217.0,1515.4 2217.5,1522.9 2217.9,1529.9C2218.4,1536.8 2218.8,1543.5 2219.3,1549.4C2219.8,1555.2 2220.3,1560.0 2220.9,1564.9C2221.5,1569.9 2222.2,1575.4 2222.8,1579.2C2223.5,1583.0 2224.1,1585.2 2224.8,1587.7C2225.4,1590.2 2226.2,1592.9 2226.7,1594.2C2227.2,1595.4 2227.6,1594.9 2227.8,1595.1C2227.9,1595.0 2228.2,1595.2 2228.7,1594.7C2229.2,1594.1 2229.9,1593.2 2230.6,1591.7C2231.4,1590.1 2232.3,1588.1 2233.2,1585.5C2234.2,1583.0 2235.3,1579.9 2236.5,1576.5C2237.7,1573.0 2239.1,1568.8 2240.4,1564.9C2241.7,1561.1 2243.0,1557.1 2244.3,1553.5C2245.6,1549.9 2246.9,1546.3 2248.2,1543.1C2249.5,1539.9 2250.9,1536.6 2252.1,1534.1C2253.3,1531.7 2254.2,1529.9 2255.3,1528.5C2256.4,1527.0 2257.5,1526.1 2258.6,1525.4C2259.6,1524.7 2260.7,1524.5 2261.8,1524.4C2262.9,1524.4 2263.9,1524.7 2265.0,1525.1C2266.2,1525.5 2267.4,1525.9 2268.9,1526.9C2270.5,1527.9 2272.2,1529.1 2274.1,1531.0C2276.1,1533.0 2278.5,1535.9 2280.6,1538.7C2282.8,1541.5 2285.0,1544.9 2287.1,1548.1C2289.3,1551.2 2291.5,1554.6 2293.6,1557.7C2295.8,1560.7 2297.9,1563.8 2300.1,1566.5C2302.3,1569.2 2304.4,1571.6 2306.6,1573.8C2308.8,1575.9 2310.3,1577.4 2313.1,1579.2C2315.9,1581.0 2319.6,1583.0 2323.5,1584.7C2327.5,1586.3 2332.1,1587.8 2336.8,1589.0C2341.5,1590.2 2346.2,1591.0 2351.9,1591.7C2357.6,1592.5 2361.3,1592.9 2370.8,1593.3C2380.2,1593.7 2387.2,1594.0 2408.6,1594.3C2430.0,1594.6 2484.2,1594.8 2499.3,1594.9" fill="none" stroke="#e0000c" stroke-width="3" stroke-linejoin="round" clip-path="url(#clipB)"/>
<path d="M1633.8,1594.5C1637.9,1594.2 1651.1,1593.2 1658.4,1592.4C1665.6,1591.6 1671.0,1591.0 1677.3,1589.9C1683.6,1588.8 1689.9,1587.6 1696.2,1586.0C1702.5,1584.4 1708.8,1582.5 1715.1,1580.3C1721.4,1578.1 1728.6,1574.9 1734.0,1572.8C1739.3,1570.6 1743.1,1568.8 1747.2,1567.3C1751.3,1565.9 1754.7,1564.7 1758.5,1563.8C1762.3,1562.9 1766.1,1561.9 1769.9,1562.0C1773.6,1562.1 1777.7,1563.3 1781.2,1564.6C1784.7,1565.8 1787.5,1567.5 1790.7,1569.6C1793.8,1571.8 1797.0,1574.9 1800.1,1577.7C1803.3,1580.5 1806.7,1584.1 1809.6,1586.5C1812.4,1589.0 1815.4,1591.2 1817.1,1592.6C1818.9,1593.9 1818.2,1594.5 1820.0,1594.7C1821.8,1594.8 1825.8,1594.2 1827.8,1593.5C1829.7,1592.9 1830.4,1592.3 1831.7,1590.9C1833.0,1589.5 1834.3,1587.5 1835.6,1585.1C1836.9,1582.6 1838.2,1579.5 1839.5,1576.1C1840.8,1572.7 1842.1,1568.8 1843.4,1564.4C1844.7,1560.0 1846.0,1555.3 1847.3,1549.9C1848.6,1544.4 1850.1,1537.1 1851.2,1531.6C1852.3,1526.1 1852.9,1522.2 1853.8,1516.9C1854.6,1511.6 1855.5,1505.6 1856.4,1500.0C1857.2,1494.4 1858.1,1489.0 1859.0,1483.1C1859.8,1477.3 1860.7,1471.0 1861.6,1464.9C1862.4,1458.9 1863.3,1452.8 1864.2,1446.8C1865.0,1440.7 1865.9,1434.4 1866.8,1428.6C1867.6,1422.7 1868.6,1416.5 1869.4,1411.7C1870.1,1406.9 1870.0,1411.5 1871.3,1400.0C1872.6,1388.5 1875.4,1360.9 1877.3,1343.0C1879.3,1325.0 1881.0,1309.7 1883.0,1292.2C1884.9,1274.8 1887.0,1256.4 1889.0,1238.5C1890.9,1220.6 1892.7,1202.2 1894.6,1184.8C1896.6,1167.4 1898.6,1150.9 1900.6,1134.0C1902.6,1117.1 1904.6,1099.2 1906.6,1083.3C1908.6,1067.4 1910.5,1052.9 1912.5,1038.5C1914.5,1024.1 1916.8,1007.0 1918.5,996.7C1920.2,986.4 1921.7,981.3 1923.0,976.8C1924.2,972.4 1925.1,969.8 1926.0,969.9C1926.9,969.9 1927.6,970.8 1928.4,977.3C1929.1,983.8 1929.8,994.0 1930.4,1008.7C1931.1,1023.3 1931.7,1045.0 1932.2,1065.4C1932.8,1085.8 1933.3,1110.1 1933.7,1131.0C1934.2,1151.9 1934.5,1161.9 1934.9,1190.7C1935.3,1219.6 1935.7,1276.4 1936.1,1303.9C1936.5,1331.4 1936.9,1338.5 1937.4,1355.8C1937.9,1373.2 1938.4,1390.5 1939.0,1407.8C1939.5,1425.1 1940.2,1444.6 1940.8,1459.7C1941.4,1474.9 1941.9,1486.6 1942.6,1498.7C1943.2,1510.8 1943.9,1522.9 1944.7,1532.5C1945.4,1542.0 1946.2,1549.6 1947.0,1555.8C1947.8,1562.1 1948.6,1565.6 1949.6,1569.9C1950.6,1574.3 1951.7,1578.5 1953.0,1581.7C1954.3,1584.9 1955.6,1587.3 1957.4,1589.2C1959.2,1591.1 1960.6,1592.1 1963.9,1593.0C1967.1,1593.9 1971.1,1594.2 1976.9,1594.6C1982.7,1594.9 1992.4,1594.8 1998.6,1594.9C2004.7,1594.9 2010.5,1596.4 2013.7,1594.9C2016.8,1593.4 2016.3,1589.5 2017.5,1586.1C2018.6,1582.7 2019.4,1578.4 2020.3,1574.4C2021.2,1570.3 2022.0,1564.3 2022.7,1561.8C2023.5,1559.3 2024.6,1559.9 2025.0,1559.6C2025.5,1559.2 2026.9,1560.4 2027.8,1557.7C2028.8,1554.9 2029.6,1549.4 2030.7,1543.2C2031.8,1537.1 2033.2,1527.7 2034.5,1521.0C2035.7,1514.3 2037.0,1507.8 2038.2,1503.2C2039.5,1498.6 2040.8,1493.6 2042.0,1493.4C2043.3,1493.2 2044.5,1498.0 2045.8,1501.9C2047.1,1505.8 2048.2,1510.4 2049.6,1516.9C2051.0,1523.4 2052.7,1532.7 2054.3,1541.0C2055.9,1549.3 2057.6,1559.1 2059.0,1566.6C2060.4,1574.1 2061.6,1581.3 2062.8,1586.0C2064.0,1590.7 2065.7,1593.4 2066.3,1594.9C2066.4,1594.9 2066.7,1594.9 2066.8,1594.9C2067.4,1593.4 2069.1,1590.7 2070.3,1586.0C2071.5,1581.3 2072.7,1574.1 2074.1,1566.6C2075.5,1559.1 2077.2,1549.3 2078.8,1541.0C2080.4,1532.7 2082.1,1523.4 2083.5,1516.9C2084.9,1510.4 2086.0,1505.8 2087.3,1501.9C2088.6,1498.0 2089.8,1493.2 2091.1,1493.4C2092.3,1493.6 2093.6,1498.6 2094.9,1503.2C2096.1,1507.8 2097.4,1514.3 2098.6,1521.0C2099.9,1527.7 2101.3,1537.1 2102.4,1543.2C2103.5,1549.4 2104.3,1554.9 2105.3,1557.7C2106.2,1560.4 2107.6,1559.2 2108.1,1559.6C2108.5,1559.9 2109.6,1559.3 2110.4,1561.8C2111.1,1564.3 2111.9,1570.3 2112.8,1574.4C2113.7,1578.4 2114.5,1582.7 2115.6,1586.1C2116.8,1589.5 2116.3,1593.4 2119.4,1594.9C2122.6,1596.4 2128.4,1594.9 2134.5,1594.9C2140.7,1594.8 2150.4,1594.9 2156.2,1594.6C2162.0,1594.2 2166.0,1593.9 2169.2,1593.0C2172.5,1592.1 2173.9,1591.1 2175.7,1589.2C2177.5,1587.3 2178.8,1584.9 2180.1,1581.7C2181.4,1578.5 2182.5,1574.3 2183.5,1569.9C2184.5,1565.6 2185.3,1562.1 2186.1,1555.8C2186.9,1549.6 2187.7,1542.0 2188.4,1532.5C2189.2,1522.9 2189.9,1510.8 2190.5,1498.7C2191.2,1486.6 2191.7,1474.9 2192.3,1459.7C2192.9,1444.6 2193.6,1425.1 2194.1,1407.8C2194.7,1390.5 2195.2,1373.2 2195.7,1355.8C2196.2,1338.5 2196.6,1331.4 2197.0,1303.9C2197.4,1276.4 2197.8,1219.6 2198.2,1190.7C2198.6,1161.9 2198.9,1151.9 2199.4,1131.0C2199.8,1110.1 2200.3,1085.8 2200.9,1065.4C2201.4,1045.0 2202.0,1023.3 2202.7,1008.7C2203.3,994.0 2204.0,983.8 2204.7,977.3C2205.5,970.8 2206.2,969.9 2207.1,969.9C2208.0,969.8 2208.9,972.4 2210.1,976.8C2211.4,981.3 2212.9,986.4 2214.6,996.7C2216.3,1007.0 2218.6,1024.1 2220.6,1038.5C2222.6,1052.9 2224.5,1067.4 2226.5,1083.3C2228.5,1099.2 2230.5,1117.1 2232.5,1134.0C2234.5,1150.9 2236.5,1167.4 2238.5,1184.8C2240.4,1202.2 2242.2,1220.6 2244.1,1238.5C2246.1,1256.4 2248.2,1274.8 2250.1,1292.2C2252.1,1309.7 2253.8,1325.0 2255.8,1343.0C2257.7,1360.9 2260.5,1388.5 2261.8,1400.0C2263.1,1411.5 2263.0,1406.9 2263.7,1411.7C2264.5,1416.5 2265.5,1422.7 2266.3,1428.6C2267.2,1434.4 2268.1,1440.7 2268.9,1446.8C2269.8,1452.8 2270.7,1458.9 2271.5,1464.9C2272.4,1471.0 2273.3,1477.3 2274.1,1483.1C2275.0,1489.0 2275.9,1494.4 2276.7,1500.0C2277.6,1505.6 2278.5,1511.6 2279.3,1516.9C2280.2,1522.2 2280.8,1526.1 2281.9,1531.6C2283.0,1537.1 2284.5,1544.4 2285.8,1549.9C2287.1,1555.3 2288.4,1560.0 2289.7,1564.4C2291.0,1568.8 2292.3,1572.7 2293.6,1576.1C2294.9,1579.5 2296.2,1582.6 2297.5,1585.1C2298.8,1587.5 2300.1,1589.5 2301.4,1590.9C2302.7,1592.3 2303.4,1592.9 2305.3,1593.5C2307.3,1594.2 2311.3,1594.8 2313.1,1594.7C2314.9,1594.5 2314.2,1593.9 2316.0,1592.6C2317.7,1591.2 2320.7,1589.0 2323.5,1586.5C2326.4,1584.1 2329.8,1580.5 2333.0,1577.7C2336.1,1574.9 2339.3,1571.8 2342.4,1569.6C2345.6,1567.5 2348.4,1565.8 2351.9,1564.6C2355.4,1563.3 2359.5,1562.1 2363.2,1562.0C2367.0,1561.9 2370.8,1562.9 2374.6,1563.8C2378.4,1564.7 2381.8,1565.9 2385.9,1567.3C2390.0,1568.8 2393.8,1570.6 2399.1,1572.8C2404.5,1574.9 2411.7,1578.1 2418.0,1580.3C2424.3,1582.5 2430.6,1584.4 2436.9,1586.0C2443.2,1587.6 2449.5,1588.8 2455.8,1589.9C2462.1,1591.0 2467.5,1591.6 2474.7,1592.4C2482.0,1593.2 2495.2,1594.2 2499.3,1594.5" fill="none" stroke="#0a0aee" stroke-width="3" stroke-linejoin="round" clip-path="url(#clipB)"/>
<rect x="323.5" y="28.5" width="787.5" height="693.0" fill="none" stroke="#000" stroke-width="3"/>
<line x1="311.00" y1="721.50" x2="323.50" y2="721.50" stroke="#000" stroke-width="3" stroke-linecap="butt"/>
<text transform="translate(273.14,733.30) scale(1.18,1)" font-size="38.8">0</text>
<line x1="316.50" y1="663.75" x2="323.50" y2="663.75" stroke="#000" stroke-width="3" stroke-linecap="butt"/>
<line x1="311.00" y1="606.00" x2="323.50" y2="606.00" stroke="#000" stroke-width="3" stroke-linecap="butt"/>
<text transform="translate(239.49,617.80) scale(1.18,1)" font-size="38.8">0.2</text>
<line x1="316.50" y1="548.25" x2="323.50" y2="548.25" stroke="#000" stroke-width="3" stroke-linecap="butt"/>
<line x1="311.00" y1="490.50" x2="323.50" y2="490.50" stroke="#000" stroke-width="3" stroke-linecap="butt"/>
<text transform="translate(237.66,502.30) scale(1.18,1)" font-size="38.8">0.4</text>
<line x1="316.50" y1="432.75" x2="323.50" y2="432.75" stroke="#000" stroke-width="3" stroke-linecap="butt"/>
<line x1="311.00" y1="375.00" x2="323.50" y2="375.00" stroke="#000" stroke-width="3" stroke-linecap="butt"/>
<text transform="translate(238.34,386.80) scale(1.18,1)" font-size="38.8">0.6</text>
<line x1="316.50" y1="317.25" x2="323.50" y2="317.25" stroke="#000" stroke-width="3" stroke-linecap="butt"/>
<line x1="311.00" y1="259.50" x2="323.50" y2="259.50" stroke="#000" stroke-width="3" stroke-linecap="butt"/>
<text transform="translate(238.80,271.30) scale(1.18,1)" font-size="38.8">0.8</text>
<line x1="316.50" y1="201.75" x2="323.50" y2="201.75" stroke="#000" stroke-width="3" stroke-linecap="butt"/>
<line x1="311.00" y1="144.00" x2="323.50" y2="144.00" stroke="#000" stroke-width="3" stroke-linecap="butt"/>
<text transform="translate(238.80,155.80) scale(1.18,1)" font-size="38.8">1.0</text>
<line x1="316.50" y1="86.25" x2="323.50" y2="86.25" stroke="#000" stroke-width="3" stroke-linecap="butt"/>
<line x1="311.00" y1="28.50" x2="323.50" y2="28.50" stroke="#000" stroke-width="3" stroke-linecap="butt"/>
<text transform="translate(239.49,40.30) scale(1.18,1)" font-size="38.8">1.2</text>
<line x1="323.50" y1="721.50" x2="323.50" y2="733.50" stroke="#000" stroke-width="3" stroke-linecap="butt"/>
<line x1="287.37" y1="765.50" x2="313.67" y2="765.50" stroke="#000" stroke-width="1.7" stroke-linecap="butt"/>
<text transform="translate(320.28,776.40) scale(1.18,1)" font-size="38.8">10</text>
<line x1="362.88" y1="721.50" x2="362.88" y2="728.00" stroke="#000" stroke-width="3" stroke-linecap="butt"/>
<line x1="402.25" y1="721.50" x2="402.25" y2="733.50" stroke="#000" stroke-width="3" stroke-linecap="butt"/>
<line x1="376.54" y1="765.50" x2="402.84" y2="765.50" stroke="#000" stroke-width="1.7" stroke-linecap="butt"/>
<text transform="translate(411.50,776.40) scale(1.18,1)" font-size="38.8">8</text>
<line x1="441.62" y1="721.50" x2="441.62" y2="728.00" stroke="#000" stroke-width="3" stroke-linecap="butt"/>
<line x1="481.00" y1="721.50" x2="481.00" y2="733.50" stroke="#000" stroke-width="3" stroke-linecap="butt"/>
<line x1="455.06" y1="765.50" x2="481.36" y2="765.50" stroke="#000" stroke-width="1.7" stroke-linecap="butt"/>
<text transform="translate(490.03,776.40) scale(1.18,1)" font-size="38.8">6</text>
<line x1="520.38" y1="721.50" x2="520.38" y2="728.00" stroke="#000" stroke-width="3" stroke-linecap="butt"/>
<line x1="559.75" y1="721.50" x2="559.75" y2="733.50" stroke="#000" stroke-width="3" stroke-linecap="butt"/>
<line x1="533.01" y1="765.50" x2="559.31" y2="765.50" stroke="#000" stroke-width="1.7" stroke-linecap="butt"/>
<text transform="translate(568.89,776.40) scale(1.18,1)" font-size="38.8">4</text>
<line x1="599.12" y1="721.50" x2="599.12" y2="728.00" stroke="#000" stroke-width="3" stroke-linecap="butt"/>
<line x1="638.50" y1="721.50" x2="638.50" y2="733.50" stroke="#000" stroke-width="3" stroke-linecap="butt"/>
<line x1="613.24" y1="765.50" x2="639.54" y2="765.50" stroke="#000" stroke-width="1.7" stroke-linecap="butt"/>
<text transform="translate(647.98,776.40) scale(1.18,1)" font-size="38.8">2</text>
<line x1="677.88" y1="721.50" x2="677.88" y2="728.00" stroke="#000" stroke-width="3" stroke-linecap="butt"/>
<line x1="717.25" y1="721.50" x2="717.25" y2="733.50" stroke="#000" stroke-width="3" stroke-linecap="butt"/>
<text transform="translate(705.80,776.40) scale(1.18,1)" font-size="38.8">0</text>
<line x1="756.62" y1="721.50" x2="756.62" y2="728.00" stroke="#000" stroke-width="3" stroke-linecap="butt"/>
<line x1="796.00" y1="721.50" x2="796.00" y2="733.50" stroke="#000" stroke-width="3" stroke-linecap="butt"/>
<text transform="translate(784.78,776.40) scale(1.18,1)" font-size="38.8">2</text>
<line x1="835.38" y1="721.50" x2="835.38" y2="728.00" stroke="#000" stroke-width="3" stroke-linecap="butt"/>
<line x1="874.75" y1="721.50" x2="874.75" y2="733.50" stroke="#000" stroke-width="3" stroke-linecap="butt"/>
<text transform="translate(863.19,776.40) scale(1.18,1)" font-size="38.8">4</text>
<line x1="914.12" y1="721.50" x2="914.12" y2="728.00" stroke="#000" stroke-width="3" stroke-linecap="butt"/>
<line x1="953.50" y1="721.50" x2="953.50" y2="733.50" stroke="#000" stroke-width="3" stroke-linecap="butt"/>
<text transform="translate(941.83,776.40) scale(1.18,1)" font-size="38.8">6</text>
<line x1="992.88" y1="721.50" x2="992.88" y2="728.00" stroke="#000" stroke-width="3" stroke-linecap="butt"/>
<line x1="1032.25" y1="721.50" x2="1032.25" y2="733.50" stroke="#000" stroke-width="3" stroke-linecap="butt"/>
<text transform="translate(1020.80,776.40) scale(1.18,1)" font-size="38.8">8</text>
<line x1="1071.62" y1="721.50" x2="1071.62" y2="728.00" stroke="#000" stroke-width="3" stroke-linecap="butt"/>
<line x1="1111.00" y1="721.50" x2="1111.00" y2="733.50" stroke="#000" stroke-width="3" stroke-linecap="butt"/>
<text transform="translate(1087.08,776.40) scale(1.18,1)" font-size="38.8">10</text>
<g transform="translate(159.80,40.30)"><text transform="translate(-1.85,0.00) scale(0.951,1)" font-size="43.3">(</text><text transform="translate(12.82,0.00) scale(1.188,1)" font-size="40.5">a</text><text transform="translate(36.49,0.00) scale(0.933,1)" font-size="43.3">)</text></g>
<g transform="translate(671.40,834.70)"><text transform="translate(-0.20,0.00) scale(1.144,1)" font-size="39.4" font-style="italic">ε</text><text transform="translate(18.78,5.70) scale(1.154,1)" font-size="27.8">d</text><line x1="38.50" y1="9.80" x2="54.60" y2="-29.00" stroke="#000" stroke-width="1.7"/><text transform="translate(61.56,0.00) scale(1.263,1)" font-size="42.0" font-style="italic">Δ</text></g>
<g transform="translate(192.80,435.90) rotate(-90)"><text transform="translate(-1.47,0.00) scale(1.240,1)" font-size="39.4" font-style="italic">k</text><text transform="translate(23.11,5.70) scale(1.067,1)" font-size="27.8">B</text><text transform="translate(41.21,0.00) scale(1.283,1)" font-size="39.4" font-style="italic">T</text><line x1="70.50" y1="9.80" x2="88.50" y2="-29.00" stroke="#000" stroke-width="1.7"/><text transform="translate(94.47,0.00) scale(1.275,1)" font-size="42.0" font-style="italic">Δ</text></g>
<rect x="1141.7" y="122.9" width="31.200000000000045" height="504.5" fill="url(#rainbow)" stroke="#000" stroke-width="2.6"/>
<line x1="1172.90" y1="122.90" x2="1184.90" y2="122.90" stroke="#000" stroke-width="2.6" stroke-linecap="butt"/>
<text transform="translate(1199.62,135.50) scale(1.18,1)" font-size="38.8">7.500</text>
<line x1="1172.90" y1="293.50" x2="1184.90" y2="293.50" stroke="#000" stroke-width="2.6" stroke-linecap="butt"/>
<text transform="translate(1200.54,306.10) scale(1.18,1)" font-size="38.8">3.050</text>
<line x1="1172.90" y1="460.30" x2="1184.90" y2="460.30" stroke="#000" stroke-width="2.6" stroke-linecap="butt"/>
<line x1="1206.00" y1="462.00" x2="1232.30" y2="462.00" stroke="#000" stroke-width="1.7" stroke-linecap="butt"/>
<text transform="translate(1238.91,472.90) scale(1.18,1)" font-size="38.8">1.450</text>
<line x1="1172.90" y1="627.40" x2="1184.90" y2="627.40" stroke="#000" stroke-width="2.6" stroke-linecap="butt"/>
<line x1="1206.00" y1="629.10" x2="1232.30" y2="629.10" stroke="#000" stroke-width="1.7" stroke-linecap="butt"/>
<text transform="translate(1240.05,640.00) scale(1.18,1)" font-size="38.8">5.950</text>
<g transform="translate(1126.80,79.50)"><text transform="translate(-0.51,0.00) scale(1.304,1)" font-size="39.4" font-style="italic">S</text><text transform="translate(23.92,5.70) scale(1.153,1)" font-size="27.8">s</text><line x1="40.40" y1="9.80" x2="56.30" y2="-29.00" stroke="#000" stroke-width="1.7"/><text transform="translate(61.06,0.00) scale(0.996,1)" font-size="43.3">(</text><text transform="translate(77.65,0.00) scale(1.139,1)" font-size="39.4" font-style="italic">k</text><text transform="translate(100.76,5.70) scale(1.128,1)" font-size="27.8">B</text><text transform="translate(120.98,3.50) scale(0.973,1)" font-size="39.4">·</text><text transform="translate(133.04,0.00) scale(1.152,1)" font-size="39.4" font-style="italic">e</text><line x1="158.80" y1="-19.90" x2="177.30" y2="-19.90" stroke="#000" stroke-width="1.4"/><text transform="translate(181.39,-12.30) scale(1.204,1)" font-size="25.5">1</text><text transform="translate(198.74,0.00) scale(0.968,1)" font-size="43.3">)</text></g>
<line x1="322.00" y1="1596.00" x2="1112.50" y2="1596.00" stroke="#000" stroke-width="2.4" stroke-linecap="butt"/>
<path d="M322.4,1536 L324.3,1536 L325.0,1596 L322.0,1596 Z" fill="#000"/>
<path d="M325.0,1574 L327.0,1595 L325.0,1595 Z" fill="#fff"/>
<line x1="311.00" y1="1595.60" x2="323.50" y2="1595.60" stroke="#000" stroke-width="3" stroke-linecap="butt"/>
<text transform="translate(273.14,1607.40) scale(1.18,1)" font-size="38.8">0</text>
<line x1="316.50" y1="1537.86" x2="323.50" y2="1537.86" stroke="#000" stroke-width="3" stroke-linecap="butt"/>
<line x1="311.00" y1="1480.12" x2="323.50" y2="1480.12" stroke="#000" stroke-width="3" stroke-linecap="butt"/>
<text transform="translate(239.49,1491.92) scale(1.18,1)" font-size="38.8">0.2</text>
<line x1="316.50" y1="1422.39" x2="323.50" y2="1422.39" stroke="#000" stroke-width="3" stroke-linecap="butt"/>
<line x1="311.00" y1="1364.65" x2="323.50" y2="1364.65" stroke="#000" stroke-width="3" stroke-linecap="butt"/>
<text transform="translate(237.66,1376.45) scale(1.18,1)" font-size="38.8">0.4</text>
<line x1="316.50" y1="1306.91" x2="323.50" y2="1306.91" stroke="#000" stroke-width="3" stroke-linecap="butt"/>
<line x1="311.00" y1="1249.17" x2="323.50" y2="1249.17" stroke="#000" stroke-width="3" stroke-linecap="butt"/>
<text transform="translate(238.34,1260.97) scale(1.18,1)" font-size="38.8">0.6</text>
<line x1="316.50" y1="1191.44" x2="323.50" y2="1191.44" stroke="#000" stroke-width="3" stroke-linecap="butt"/>
<line x1="311.00" y1="1133.70" x2="323.50" y2="1133.70" stroke="#000" stroke-width="3" stroke-linecap="butt"/>
<text transform="translate(238.80,1145.50) scale(1.18,1)" font-size="38.8">0.8</text>
<line x1="316.50" y1="1075.96" x2="323.50" y2="1075.96" stroke="#000" stroke-width="3" stroke-linecap="butt"/>
<line x1="311.00" y1="1018.22" x2="323.50" y2="1018.22" stroke="#000" stroke-width="3" stroke-linecap="butt"/>
<text transform="translate(238.80,1030.02) scale(1.18,1)" font-size="38.8">1.0</text>
<line x1="316.50" y1="960.49" x2="323.50" y2="960.49" stroke="#000" stroke-width="3" stroke-linecap="butt"/>
<line x1="311.00" y1="902.75" x2="323.50" y2="902.75" stroke="#000" stroke-width="3" stroke-linecap="butt"/>
<text transform="translate(239.49,914.55) scale(1.18,1)" font-size="38.8">1.2</text>
<line x1="323.50" y1="1595.60" x2="323.50" y2="1607.60" stroke="#000" stroke-width="3" stroke-linecap="butt"/>
<line x1="287.37" y1="1640.10" x2="313.67" y2="1640.10" stroke="#000" stroke-width="1.7" stroke-linecap="butt"/>
<text transform="translate(320.28,1651.00) scale(1.18,1)" font-size="38.8">10</text>
<line x1="362.88" y1="1595.60" x2="362.88" y2="1602.10" stroke="#000" stroke-width="3" stroke-linecap="butt"/>
<line x1="402.25" y1="1595.60" x2="402.25" y2="1607.60" stroke="#000" stroke-width="3" stroke-linecap="butt"/>
<line x1="376.54" y1="1640.10" x2="402.84" y2="1640.10" stroke="#000" stroke-width="1.7" stroke-linecap="butt"/>
<text transform="translate(411.50,1651.00) scale(1.18,1)" font-size="38.8">8</text>
<line x1="441.62" y1="1595.60" x2="441.62" y2="1602.10" stroke="#000" stroke-width="3" stroke-linecap="butt"/>
<line x1="481.00" y1="1595.60" x2="481.00" y2="1607.60" stroke="#000" stroke-width="3" stroke-linecap="butt"/>
<line x1="455.06" y1="1640.10" x2="481.36" y2="1640.10" stroke="#000" stroke-width="1.7" stroke-linecap="butt"/>
<text transform="translate(490.03,1651.00) scale(1.18,1)" font-size="38.8">6</text>
<line x1="520.38" y1="1595.60" x2="520.38" y2="1602.10" stroke="#000" stroke-width="3" stroke-linecap="butt"/>
<line x1="559.75" y1="1595.60" x2="559.75" y2="1607.60" stroke="#000" stroke-width="3" stroke-linecap="butt"/>
<line x1="533.01" y1="1640.10" x2="559.31" y2="1640.10" stroke="#000" stroke-width="1.7" stroke-linecap="butt"/>
<text transform="translate(568.89,1651.00) scale(1.18,1)" font-size="38.8">4</text>
<line x1="599.12" y1="1595.60" x2="599.12" y2="1602.10" stroke="#000" stroke-width="3" stroke-linecap="butt"/>
<line x1="638.50" y1="1595.60" x2="638.50" y2="1607.60" stroke="#000" stroke-width="3" stroke-linecap="butt"/>
<line x1="613.24" y1="1640.10" x2="639.54" y2="1640.10" stroke="#000" stroke-width="1.7" stroke-linecap="butt"/>
<text transform="translate(647.98,1651.00) scale(1.18,1)" font-size="38.8">2</text>
<line x1="677.88" y1="1595.60" x2="677.88" y2="1602.10" stroke="#000" stroke-width="3" stroke-linecap="butt"/>
<line x1="717.25" y1="1595.60" x2="717.25" y2="1607.60" stroke="#000" stroke-width="3" stroke-linecap="butt"/>
<text transform="translate(705.80,1651.00) scale(1.18,1)" font-size="38.8">0</text>
<line x1="756.62" y1="1595.60" x2="756.62" y2="1602.10" stroke="#000" stroke-width="3" stroke-linecap="butt"/>
<line x1="796.00" y1="1595.60" x2="796.00" y2="1607.60" stroke="#000" stroke-width="3" stroke-linecap="butt"/>
<text transform="translate(784.78,1651.00) scale(1.18,1)" font-size="38.8">2</text>
<line x1="835.38" y1="1595.60" x2="835.38" y2="1602.10" stroke="#000" stroke-width="3" stroke-linecap="butt"/>
<line x1="874.75" y1="1595.60" x2="874.75" y2="1607.60" stroke="#000" stroke-width="3" stroke-linecap="butt"/>
<text transform="translate(863.19,1651.00) scale(1.18,1)" font-size="38.8">4</text>
<line x1="914.12" y1="1595.60" x2="914.12" y2="1602.10" stroke="#000" stroke-width="3" stroke-linecap="butt"/>
<line x1="953.50" y1="1595.60" x2="953.50" y2="1607.60" stroke="#000" stroke-width="3" stroke-linecap="butt"/>
<text transform="translate(941.83,1651.00) scale(1.18,1)" font-size="38.8">6</text>
<line x1="992.88" y1="1595.60" x2="992.88" y2="1602.10" stroke="#000" stroke-width="3" stroke-linecap="butt"/>
<line x1="1032.25" y1="1595.60" x2="1032.25" y2="1607.60" stroke="#000" stroke-width="3" stroke-linecap="butt"/>
<text transform="translate(1020.80,1651.00) scale(1.18,1)" font-size="38.8">8</text>
<line x1="1071.62" y1="1595.60" x2="1071.62" y2="1602.10" stroke="#000" stroke-width="3" stroke-linecap="butt"/>
<line x1="1111.00" y1="1595.60" x2="1111.00" y2="1607.60" stroke="#000" stroke-width="3" stroke-linecap="butt"/>
<text transform="translate(1087.08,1651.00) scale(1.18,1)" font-size="38.8">10</text>
<g transform="translate(159.80,914.50)"><text transform="translate(-1.85,0.00) scale(0.951,1)" font-size="43.3">(</text><text transform="translate(15.50,0.00) scale(1.127,1)" font-size="40.5">b</text><text transform="translate(36.49,0.00) scale(0.933,1)" font-size="43.3">)</text></g>
<g transform="translate(671.40,1708.70)"><text transform="translate(-0.20,0.00) scale(1.144,1)" font-size="39.4" font-style="italic">ε</text><text transform="translate(18.78,5.70) scale(1.154,1)" font-size="27.8">d</text><line x1="38.50" y1="9.80" x2="54.60" y2="-29.00" stroke="#000" stroke-width="1.7"/><text transform="translate(61.56,0.00) scale(1.263,1)" font-size="42.0" font-style="italic">Δ</text></g>
<g transform="translate(192.80,1310.10) rotate(-90)"><text transform="translate(-1.47,0.00) scale(1.240,1)" font-size="39.4" font-style="italic">k</text><text transform="translate(23.11,5.70) scale(1.067,1)" font-size="27.8">B</text><text transform="translate(41.21,0.00) scale(1.283,1)" font-size="39.4" font-style="italic">T</text><line x1="70.50" y1="9.80" x2="88.50" y2="-29.00" stroke="#000" stroke-width="1.7"/><text transform="translate(94.47,0.00) scale(1.275,1)" font-size="42.0" font-style="italic">Δ</text></g>
<rect x="1142" y="997.2" width="31.299999999999955" height="504.20000000000005" fill="url(#rainbow)" stroke="#000" stroke-width="2.6"/>
<line x1="1173.30" y1="997.20" x2="1185.30" y2="997.20" stroke="#000" stroke-width="2.6" stroke-linecap="butt"/>
<text transform="translate(1198.71,1009.80) scale(1.18,1)" font-size="38.8">18.30</text>
<line x1="1173.30" y1="1092.60" x2="1185.30" y2="1092.60" stroke="#000" stroke-width="2.6" stroke-linecap="butt"/>
<text transform="translate(1198.71,1105.20) scale(1.18,1)" font-size="38.8">15.00</text>
<line x1="1173.30" y1="1228.70" x2="1185.30" y2="1228.70" stroke="#000" stroke-width="2.6" stroke-linecap="butt"/>
<text transform="translate(1198.71,1241.30) scale(1.18,1)" font-size="38.8">10.00</text>
<line x1="1173.30" y1="1364.40" x2="1185.30" y2="1364.40" stroke="#000" stroke-width="2.6" stroke-linecap="butt"/>
<text transform="translate(1199.85,1377.00) scale(1.18,1)" font-size="38.8">5.00</text>
<line x1="1173.30" y1="1501.40" x2="1185.30" y2="1501.40" stroke="#000" stroke-width="2.6" stroke-linecap="butt"/>
<text transform="translate(1200.77,1514.00) scale(1.18,1)" font-size="38.8">0</text>
<g transform="translate(1201.60,953.20)"><text transform="translate(-0.46,0.00) scale(1.166,1)" font-size="39.4" font-style="italic">Z</text><text transform="translate(26.68,5.70) scale(1.188,1)" font-size="27.8">s</text><text transform="translate(39.11,0.00) scale(1.283,1)" font-size="39.4" font-style="italic">T</text></g>
<rect x="1633.6" y="28.5" width="865.9000000000001" height="693.0" fill="none" stroke="#000" stroke-width="3"/>
<line x1="1633.60" y1="28.50" x2="1645.60" y2="28.50" stroke="#000" stroke-width="3" stroke-linecap="butt"/>
<text transform="translate(1593.74,40.30) scale(1.18,1)" font-size="38.8">9</text>
<line x1="1633.60" y1="93.47" x2="1640.10" y2="93.47" stroke="#000" stroke-width="3" stroke-linecap="butt"/>
<line x1="1633.60" y1="158.44" x2="1645.60" y2="158.44" stroke="#000" stroke-width="3" stroke-linecap="butt"/>
<text transform="translate(1593.28,170.24) scale(1.18,1)" font-size="38.8">6</text>
<line x1="1633.60" y1="223.41" x2="1640.10" y2="223.41" stroke="#000" stroke-width="3" stroke-linecap="butt"/>
<line x1="1633.60" y1="288.38" x2="1645.60" y2="288.38" stroke="#000" stroke-width="3" stroke-linecap="butt"/>
<text transform="translate(1593.74,300.18) scale(1.18,1)" font-size="38.8">3</text>
<line x1="1633.60" y1="353.34" x2="1640.10" y2="353.34" stroke="#000" stroke-width="3" stroke-linecap="butt"/>
<line x1="1633.60" y1="418.31" x2="1645.60" y2="418.31" stroke="#000" stroke-width="3" stroke-linecap="butt"/>
<text transform="translate(1593.74,430.11) scale(1.18,1)" font-size="38.8">0</text>
<line x1="1633.60" y1="483.28" x2="1640.10" y2="483.28" stroke="#000" stroke-width="3" stroke-linecap="butt"/>
<line x1="1633.60" y1="548.25" x2="1645.60" y2="548.25" stroke="#000" stroke-width="3" stroke-linecap="butt"/>
<line x1="1559.00" y1="549.15" x2="1585.30" y2="549.15" stroke="#000" stroke-width="1.7" stroke-linecap="butt"/>
<text transform="translate(1593.74,560.05) scale(1.18,1)" font-size="38.8">3</text>
<line x1="1633.60" y1="613.22" x2="1640.10" y2="613.22" stroke="#000" stroke-width="3" stroke-linecap="butt"/>
<line x1="1633.60" y1="678.19" x2="1645.60" y2="678.19" stroke="#000" stroke-width="3" stroke-linecap="butt"/>
<line x1="1558.31" y1="679.09" x2="1584.61" y2="679.09" stroke="#000" stroke-width="1.7" stroke-linecap="butt"/>
<text transform="translate(1593.28,689.99) scale(1.18,1)" font-size="38.8">6</text>
<line x1="1633.60" y1="721.50" x2="1633.60" y2="733.50" stroke="#000" stroke-width="3" stroke-linecap="butt"/>
<line x1="1597.47" y1="765.50" x2="1623.77" y2="765.50" stroke="#000" stroke-width="1.7" stroke-linecap="butt"/>
<text transform="translate(1630.38,776.40) scale(1.18,1)" font-size="38.8">10</text>
<line x1="1676.89" y1="721.50" x2="1676.89" y2="728.00" stroke="#000" stroke-width="3" stroke-linecap="butt"/>
<line x1="1720.19" y1="721.50" x2="1720.19" y2="733.50" stroke="#000" stroke-width="3" stroke-linecap="butt"/>
<line x1="1694.48" y1="765.50" x2="1720.78" y2="765.50" stroke="#000" stroke-width="1.7" stroke-linecap="butt"/>
<text transform="translate(1729.44,776.40) scale(1.18,1)" font-size="38.8">8</text>
<line x1="1763.48" y1="721.50" x2="1763.48" y2="728.00" stroke="#000" stroke-width="3" stroke-linecap="butt"/>
<line x1="1806.78" y1="721.50" x2="1806.78" y2="733.50" stroke="#000" stroke-width="3" stroke-linecap="butt"/>
<line x1="1780.84" y1="765.50" x2="1807.14" y2="765.50" stroke="#000" stroke-width="1.7" stroke-linecap="butt"/>
<text transform="translate(1815.81,776.40) scale(1.18,1)" font-size="38.8">6</text>
<line x1="1850.07" y1="721.50" x2="1850.07" y2="728.00" stroke="#000" stroke-width="3" stroke-linecap="butt"/>
<line x1="1893.37" y1="721.50" x2="1893.37" y2="733.50" stroke="#000" stroke-width="3" stroke-linecap="butt"/>
<line x1="1866.63" y1="765.50" x2="1892.93" y2="765.50" stroke="#000" stroke-width="1.7" stroke-linecap="butt"/>
<text transform="translate(1902.51,776.40) scale(1.18,1)" font-size="38.8">4</text>
<line x1="1936.66" y1="721.50" x2="1936.66" y2="728.00" stroke="#000" stroke-width="3" stroke-linecap="butt"/>
<line x1="1979.96" y1="721.50" x2="1979.96" y2="733.50" stroke="#000" stroke-width="3" stroke-linecap="butt"/>
<line x1="1954.70" y1="765.50" x2="1981.00" y2="765.50" stroke="#000" stroke-width="1.7" stroke-linecap="butt"/>
<text transform="translate(1989.44,776.40) scale(1.18,1)" font-size="38.8">2</text>
<line x1="2023.25" y1="721.50" x2="2023.25" y2="728.00" stroke="#000" stroke-width="3" stroke-linecap="butt"/>
<line x1="2066.55" y1="721.50" x2="2066.55" y2="733.50" stroke="#000" stroke-width="3" stroke-linecap="butt"/>
<text transform="translate(2055.10,776.40) scale(1.18,1)" font-size="38.8">0</text>
<line x1="2109.84" y1="721.50" x2="2109.84" y2="728.00" stroke="#000" stroke-width="3" stroke-linecap="butt"/>
<line x1="2153.14" y1="721.50" x2="2153.14" y2="733.50" stroke="#000" stroke-width="3" stroke-linecap="butt"/>
<text transform="translate(2141.92,776.40) scale(1.18,1)" font-size="38.8">2</text>
<line x1="2196.43" y1="721.50" x2="2196.43" y2="728.00" stroke="#000" stroke-width="3" stroke-linecap="butt"/>
<line x1="2239.73" y1="721.50" x2="2239.73" y2="733.50" stroke="#000" stroke-width="3" stroke-linecap="butt"/>
<text transform="translate(2228.17,776.40) scale(1.18,1)" font-size="38.8">4</text>
<line x1="2283.03" y1="721.50" x2="2283.03" y2="728.00" stroke="#000" stroke-width="3" stroke-linecap="butt"/>
<line x1="2326.32" y1="721.50" x2="2326.32" y2="733.50" stroke="#000" stroke-width="3" stroke-linecap="butt"/>
<text transform="translate(2314.65,776.40) scale(1.18,1)" font-size="38.8">6</text>
<line x1="2369.61" y1="721.50" x2="2369.61" y2="728.00" stroke="#000" stroke-width="3" stroke-linecap="butt"/>
<line x1="2412.91" y1="721.50" x2="2412.91" y2="733.50" stroke="#000" stroke-width="3" stroke-linecap="butt"/>
<text transform="translate(2401.46,776.40) scale(1.18,1)" font-size="38.8">8</text>
<line x1="2456.20" y1="721.50" x2="2456.20" y2="728.00" stroke="#000" stroke-width="3" stroke-linecap="butt"/>
<line x1="2499.50" y1="721.50" x2="2499.50" y2="733.50" stroke="#000" stroke-width="3" stroke-linecap="butt"/>
<text transform="translate(2475.58,776.40) scale(1.18,1)" font-size="38.8">10</text>
<g transform="translate(1478.80,40.30)"><text transform="translate(-1.85,0.00) scale(0.951,1)" font-size="43.3">(</text><text transform="translate(12.82,0.00) scale(1.188,1)" font-size="40.5">a</text><text transform="translate(33.42,-13.30) scale(1.499,1)" font-size="27.8">′</text><text transform="translate(45.79,0.00) scale(0.933,1)" font-size="43.3">)</text></g>
<g transform="translate(2020.70,834.70)"><text transform="translate(-0.20,0.00) scale(1.144,1)" font-size="39.4" font-style="italic">ε</text><text transform="translate(18.78,5.70) scale(1.154,1)" font-size="27.8">d</text><line x1="38.50" y1="9.80" x2="54.60" y2="-29.00" stroke="#000" stroke-width="1.7"/><text transform="translate(61.56,0.00) scale(1.263,1)" font-size="42.0" font-style="italic">Δ</text></g>
<g transform="translate(1519.80,480.40) rotate(-90)"><text transform="translate(-0.51,0.00) scale(1.304,1)" font-size="39.4" font-style="italic">S</text><text transform="translate(23.92,5.70) scale(1.153,1)" font-size="27.8">s</text><line x1="40.40" y1="9.80" x2="56.30" y2="-29.00" stroke="#000" stroke-width="1.7"/><text transform="translate(61.06,0.00) scale(0.996,1)" font-size="43.3">(</text><text transform="translate(77.65,0.00) scale(1.139,1)" font-size="39.4" font-style="italic">k</text><text transform="translate(100.76,5.70) scale(1.128,1)" font-size="27.8">B</text><text transform="translate(120.98,3.50) scale(0.973,1)" font-size="39.4">·</text><text transform="translate(133.04,0.00) scale(1.152,1)" font-size="39.4" font-style="italic">e</text><line x1="158.80" y1="-19.90" x2="177.30" y2="-19.90" stroke="#000" stroke-width="1.4"/><text transform="translate(181.39,-12.30) scale(1.204,1)" font-size="25.5">1</text><text transform="translate(198.74,0.00) scale(0.968,1)" font-size="43.3">)</text></g>
<line x1="2172.20" y1="584.60" x2="2237.70" y2="584.60" stroke="#000" stroke-width="3" stroke-linecap="butt"/>
<g transform="translate(2254.60,596.10)"><text transform="translate(-1.30,0.00) scale(1.098,1)" font-size="39.4" font-style="italic">k</text><text transform="translate(21.05,5.70) scale(1.140,1)" font-size="27.8">B</text><text transform="translate(42.59,0.00) scale(1.214,1)" font-size="39.4" font-style="italic">T</text><line x1="82.00" y1="-13.30" x2="110.00" y2="-13.30" stroke="#000" stroke-width="1.5"/><line x1="82.00" y1="-4.70" x2="110.00" y2="-4.70" stroke="#000" stroke-width="1.5"/><text transform="translate(122.10,0.00) scale(0.949,1)" font-size="39.4">0</text><text transform="translate(144.62,0.00) scale(0.931,1)" font-size="39.4">.</text><text transform="translate(156.39,0.00) scale(0.929,1)" font-size="39.4">1</text><text transform="translate(183.23,0.00) scale(1.242,1)" font-size="42.0" font-style="italic">Δ</text></g>
<line x1="2172.20" y1="631.60" x2="2237.70" y2="631.60" stroke="#e0000c" stroke-width="3" stroke-linecap="butt"/>
<g transform="translate(2254.60,643.10)"><text transform="translate(-1.30,0.00) scale(1.098,1)" font-size="39.4" font-style="italic">k</text><text transform="translate(21.05,5.70) scale(1.140,1)" font-size="27.8">B</text><text transform="translate(42.59,0.00) scale(1.214,1)" font-size="39.4" font-style="italic">T</text><line x1="82.00" y1="-13.30" x2="110.00" y2="-13.30" stroke="#000" stroke-width="1.5"/><line x1="82.00" y1="-4.70" x2="110.00" y2="-4.70" stroke="#000" stroke-width="1.5"/><text transform="translate(122.10,0.00) scale(0.949,1)" font-size="39.4">0</text><text transform="translate(144.62,0.00) scale(0.931,1)" font-size="39.4">.</text><text transform="translate(156.20,0.00) scale(0.960,1)" font-size="39.4">3</text><text transform="translate(183.23,0.00) scale(1.242,1)" font-size="42.0" font-style="italic">Δ</text></g>
<line x1="2172.20" y1="678.70" x2="2237.70" y2="678.70" stroke="#0a0aee" stroke-width="3" stroke-linecap="butt"/>
<g transform="translate(2254.60,690.20)"><text transform="translate(-1.30,0.00) scale(1.098,1)" font-size="39.4" font-style="italic">k</text><text transform="translate(21.05,5.70) scale(1.140,1)" font-size="27.8">B</text><text transform="translate(42.59,0.00) scale(1.214,1)" font-size="39.4" font-style="italic">T</text><line x1="82.00" y1="-13.30" x2="110.00" y2="-13.30" stroke="#000" stroke-width="1.5"/><line x1="82.00" y1="-4.70" x2="110.00" y2="-4.70" stroke="#000" stroke-width="1.5"/><text transform="translate(122.10,0.00) scale(0.949,1)" font-size="39.4">0</text><text transform="translate(144.62,0.00) scale(0.931,1)" font-size="39.4">.</text><text transform="translate(155.55,0.00) scale(0.996,1)" font-size="39.4">5</text><text transform="translate(183.23,0.00) scale(1.242,1)" font-size="42.0" font-style="italic">Δ</text></g>
<rect x="1633.6" y="902.6" width="865.9000000000001" height="692.4" fill="none" stroke="#000" stroke-width="3"/>
<line x1="1633.60" y1="1595.00" x2="1645.60" y2="1595.00" stroke="#000" stroke-width="3" stroke-linecap="butt"/>
<text transform="translate(1594.84,1606.80) scale(1.18,1)" font-size="38.8">0</text>
<line x1="1633.60" y1="1548.84" x2="1640.10" y2="1548.84" stroke="#000" stroke-width="3" stroke-linecap="butt"/>
<line x1="1633.60" y1="1502.68" x2="1645.60" y2="1502.68" stroke="#000" stroke-width="3" stroke-linecap="butt"/>
<text transform="translate(1595.53,1514.48) scale(1.18,1)" font-size="38.8">2</text>
<line x1="1633.60" y1="1456.52" x2="1640.10" y2="1456.52" stroke="#000" stroke-width="3" stroke-linecap="butt"/>
<line x1="1633.60" y1="1410.36" x2="1645.60" y2="1410.36" stroke="#000" stroke-width="3" stroke-linecap="butt"/>
<text transform="translate(1593.69,1422.16) scale(1.18,1)" font-size="38.8">4</text>
<line x1="1633.60" y1="1364.20" x2="1640.10" y2="1364.20" stroke="#000" stroke-width="3" stroke-linecap="butt"/>
<line x1="1633.60" y1="1318.04" x2="1645.60" y2="1318.04" stroke="#000" stroke-width="3" stroke-linecap="butt"/>
<text transform="translate(1594.38,1329.84) scale(1.18,1)" font-size="38.8">6</text>
<line x1="1633.60" y1="1271.88" x2="1640.10" y2="1271.88" stroke="#000" stroke-width="3" stroke-linecap="butt"/>
<line x1="1633.60" y1="1225.72" x2="1645.60" y2="1225.72" stroke="#000" stroke-width="3" stroke-linecap="butt"/>
<text transform="translate(1594.84,1237.52) scale(1.18,1)" font-size="38.8">8</text>
<line x1="1633.60" y1="1179.56" x2="1640.10" y2="1179.56" stroke="#000" stroke-width="3" stroke-linecap="butt"/>
<line x1="1633.60" y1="1133.40" x2="1645.60" y2="1133.40" stroke="#000" stroke-width="3" stroke-linecap="butt"/>
<text transform="translate(1571.95,1145.20) scale(1.18,1)" font-size="38.8">10</text>
<line x1="1633.60" y1="1087.24" x2="1640.10" y2="1087.24" stroke="#000" stroke-width="3" stroke-linecap="butt"/>
<line x1="1633.60" y1="1041.08" x2="1645.60" y2="1041.08" stroke="#000" stroke-width="3" stroke-linecap="butt"/>
<text transform="translate(1572.63,1052.88) scale(1.18,1)" font-size="38.8">12</text>
<line x1="1633.60" y1="994.92" x2="1640.10" y2="994.92" stroke="#000" stroke-width="3" stroke-linecap="butt"/>
<line x1="1633.60" y1="948.76" x2="1645.60" y2="948.76" stroke="#000" stroke-width="3" stroke-linecap="butt"/>
<text transform="translate(1570.80,960.56) scale(1.18,1)" font-size="38.8">14</text>
<line x1="1633.60" y1="1595.00" x2="1633.60" y2="1607.00" stroke="#000" stroke-width="3" stroke-linecap="butt"/>
<line x1="1597.47" y1="1640.10" x2="1623.77" y2="1640.10" stroke="#000" stroke-width="1.7" stroke-linecap="butt"/>
<text transform="translate(1630.38,1651.00) scale(1.18,1)" font-size="38.8">10</text>
<line x1="1676.89" y1="1595.00" x2="1676.89" y2="1601.50" stroke="#000" stroke-width="3" stroke-linecap="butt"/>
<line x1="1720.19" y1="1595.00" x2="1720.19" y2="1607.00" stroke="#000" stroke-width="3" stroke-linecap="butt"/>
<line x1="1694.48" y1="1640.10" x2="1720.78" y2="1640.10" stroke="#000" stroke-width="1.7" stroke-linecap="butt"/>
<text transform="translate(1729.44,1651.00) scale(1.18,1)" font-size="38.8">8</text>
<line x1="1763.48" y1="1595.00" x2="1763.48" y2="1601.50" stroke="#000" stroke-width="3" stroke-linecap="butt"/>
<line x1="1806.78" y1="1595.00" x2="1806.78" y2="1607.00" stroke="#000" stroke-width="3" stroke-linecap="butt"/>
<line x1="1780.84" y1="1640.10" x2="1807.14" y2="1640.10" stroke="#000" stroke-width="1.7" stroke-linecap="butt"/>
<text transform="translate(1815.81,1651.00) scale(1.18,1)" font-size="38.8">6</text>
<line x1="1850.07" y1="1595.00" x2="1850.07" y2="1601.50" stroke="#000" stroke-width="3" stroke-linecap="butt"/>
<line x1="1893.37" y1="1595.00" x2="1893.37" y2="1607.00" stroke="#000" stroke-width="3" stroke-linecap="butt"/>
<line x1="1866.63" y1="1640.10" x2="1892.93" y2="1640.10" stroke="#000" stroke-width="1.7" stroke-linecap="butt"/>
<text transform="translate(1902.51,1651.00) scale(1.18,1)" font-size="38.8">4</text>
<line x1="1936.66" y1="1595.00" x2="1936.66" y2="1601.50" stroke="#000" stroke-width="3" stroke-linecap="butt"/>
<line x1="1979.96" y1="1595.00" x2="1979.96" y2="1607.00" stroke="#000" stroke-width="3" stroke-linecap="butt"/>
<line x1="1954.70" y1="1640.10" x2="1981.00" y2="1640.10" stroke="#000" stroke-width="1.7" stroke-linecap="butt"/>
<text transform="translate(1989.44,1651.00) scale(1.18,1)" font-size="38.8">2</text>
<line x1="2023.25" y1="1595.00" x2="2023.25" y2="1601.50" stroke="#000" stroke-width="3" stroke-linecap="butt"/>
<line x1="2066.55" y1="1595.00" x2="2066.55" y2="1607.00" stroke="#000" stroke-width="3" stroke-linecap="butt"/>
<text transform="translate(2055.10,1651.00) scale(1.18,1)" font-size="38.8">0</text>
<line x1="2109.84" y1="1595.00" x2="2109.84" y2="1601.50" stroke="#000" stroke-width="3" stroke-linecap="butt"/>
<line x1="2153.14" y1="1595.00" x2="2153.14" y2="1607.00" stroke="#000" stroke-width="3" stroke-linecap="butt"/>
<text transform="translate(2141.92,1651.00) scale(1.18,1)" font-size="38.8">2</text>
<line x1="2196.43" y1="1595.00" x2="2196.43" y2="1601.50" stroke="#000" stroke-width="3" stroke-linecap="butt"/>
<line x1="2239.73" y1="1595.00" x2="2239.73" y2="1607.00" stroke="#000" stroke-width="3" stroke-linecap="butt"/>
<text transform="translate(2228.17,1651.00) scale(1.18,1)" font-size="38.8">4</text>
<line x1="2283.03" y1="1595.00" x2="2283.03" y2="1601.50" stroke="#000" stroke-width="3" stroke-linecap="butt"/>
<line x1="2326.32" y1="1595.00" x2="2326.32" y2="1607.00" stroke="#000" stroke-width="3" stroke-linecap="butt"/>
<text transform="translate(2314.65,1651.00) scale(1.18,1)" font-size="38.8">6</text>
<line x1="2369.61" y1="1595.00" x2="2369.61" y2="1601.50" stroke="#000" stroke-width="3" stroke-linecap="butt"/>
<line x1="2412.91" y1="1595.00" x2="2412.91" y2="1607.00" stroke="#000" stroke-width="3" stroke-linecap="butt"/>
<text transform="translate(2401.46,1651.00) scale(1.18,1)" font-size="38.8">8</text>
<line x1="2456.20" y1="1595.00" x2="2456.20" y2="1601.50" stroke="#000" stroke-width="3" stroke-linecap="butt"/>
<line x1="2499.50" y1="1595.00" x2="2499.50" y2="1607.00" stroke="#000" stroke-width="3" stroke-linecap="butt"/>
<text transform="translate(2475.58,1651.00) scale(1.18,1)" font-size="38.8">10</text>
<g transform="translate(1502.80,914.50)"><text transform="translate(-1.85,0.00) scale(0.951,1)" font-size="43.3">(</text><text transform="translate(15.50,0.00) scale(1.127,1)" font-size="40.5">b</text><text transform="translate(36.42,-13.30) scale(1.499,1)" font-size="27.8">′</text><text transform="translate(47.59,0.00) scale(0.933,1)" font-size="43.3">)</text></g>
<g transform="translate(2020.70,1708.70)"><text transform="translate(-0.20,0.00) scale(1.144,1)" font-size="39.4" font-style="italic">ε</text><text transform="translate(18.78,5.70) scale(1.154,1)" font-size="27.8">d</text><line x1="38.50" y1="9.80" x2="54.60" y2="-29.00" stroke="#000" stroke-width="1.7"/><text transform="translate(61.56,0.00) scale(1.263,1)" font-size="42.0" font-style="italic">Δ</text></g>
<g transform="translate(1531.80,1280.90) rotate(-90)"><text transform="translate(-0.46,0.00) scale(1.166,1)" font-size="39.4" font-style="italic">Z</text><text transform="translate(26.68,5.70) scale(1.188,1)" font-size="27.8">s</text><text transform="translate(39.11,0.00) scale(1.283,1)" font-size="39.4" font-style="italic">T</text></g>
<line x1="1958.90" y1="918.30" x2="2024.60" y2="918.30" stroke="#000" stroke-width="3.1" stroke-linecap="butt"/>
<g transform="translate(1962.90,958.70)"><text transform="translate(-1.30,0.00) scale(1.098,1)" font-size="39.4" font-style="italic">k</text><text transform="translate(21.05,5.70) scale(1.140,1)" font-size="27.8">B</text><text transform="translate(42.59,0.00) scale(1.214,1)" font-size="39.4" font-style="italic">T</text><line x1="82.00" y1="-13.30" x2="110.00" y2="-13.30" stroke="#000" stroke-width="1.5"/><line x1="82.00" y1="-4.70" x2="110.00" y2="-4.70" stroke="#000" stroke-width="1.5"/><text transform="translate(122.10,0.00) scale(0.949,1)" font-size="39.4">0</text><text transform="translate(144.62,0.00) scale(0.931,1)" font-size="39.4">.</text><text transform="translate(156.39,0.00) scale(0.929,1)" font-size="39.4">1</text><text transform="translate(183.23,0.00) scale(1.242,1)" font-size="42.0" font-style="italic">Δ</text></g>
<line x1="1958.90" y1="990.30" x2="2024.60" y2="990.30" stroke="#e0000c" stroke-width="3.1" stroke-linecap="butt"/>
<g transform="translate(1962.90,1030.70)"><text transform="translate(-1.30,0.00) scale(1.098,1)" font-size="39.4" font-style="italic">k</text><text transform="translate(21.05,5.70) scale(1.140,1)" font-size="27.8">B</text><text transform="translate(42.59,0.00) scale(1.214,1)" font-size="39.4" font-style="italic">T</text><line x1="82.00" y1="-13.30" x2="110.00" y2="-13.30" stroke="#000" stroke-width="1.5"/><line x1="82.00" y1="-4.70" x2="110.00" y2="-4.70" stroke="#000" stroke-width="1.5"/><text transform="translate(122.10,0.00) scale(0.949,1)" font-size="39.4">0</text><text transform="translate(144.62,0.00) scale(0.931,1)" font-size="39.4">.</text><text transform="translate(156.20,0.00) scale(0.960,1)" font-size="39.4">3</text><text transform="translate(183.23,0.00) scale(1.242,1)" font-size="42.0" font-style="italic">Δ</text></g>
<line x1="1958.90" y1="1062.40" x2="2024.60" y2="1062.40" stroke="#0a0aee" stroke-width="3.1" stroke-linecap="butt"/>
<g transform="translate(1962.90,1102.80)"><text transform="translate(-1.30,0.00) scale(1.098,1)" font-size="39.4" font-style="italic">k</text><text transform="translate(21.05,5.70) scale(1.140,1)" font-size="27.8">B</text><text transform="translate(42.59,0.00) scale(1.214,1)" font-size="39.4" font-style="italic">T</text><line x1="82.00" y1="-13.30" x2="110.00" y2="-13.30" stroke="#000" stroke-width="1.5"/><line x1="82.00" y1="-4.70" x2="110.00" y2="-4.70" stroke="#000" stroke-width="1.5"/><text transform="translate(122.10,0.00) scale(0.949,1)" font-size="39.4">0</text><text transform="translate(144.62,0.00) scale(0.931,1)" font-size="39.4">.</text><text transform="translate(155.55,0.00) scale(0.996,1)" font-size="39.4">5</text><text transform="translate(183.23,0.00) scale(1.242,1)" font-size="42.0" font-style="italic">Δ</text></g>
</svg>
</body></html>
